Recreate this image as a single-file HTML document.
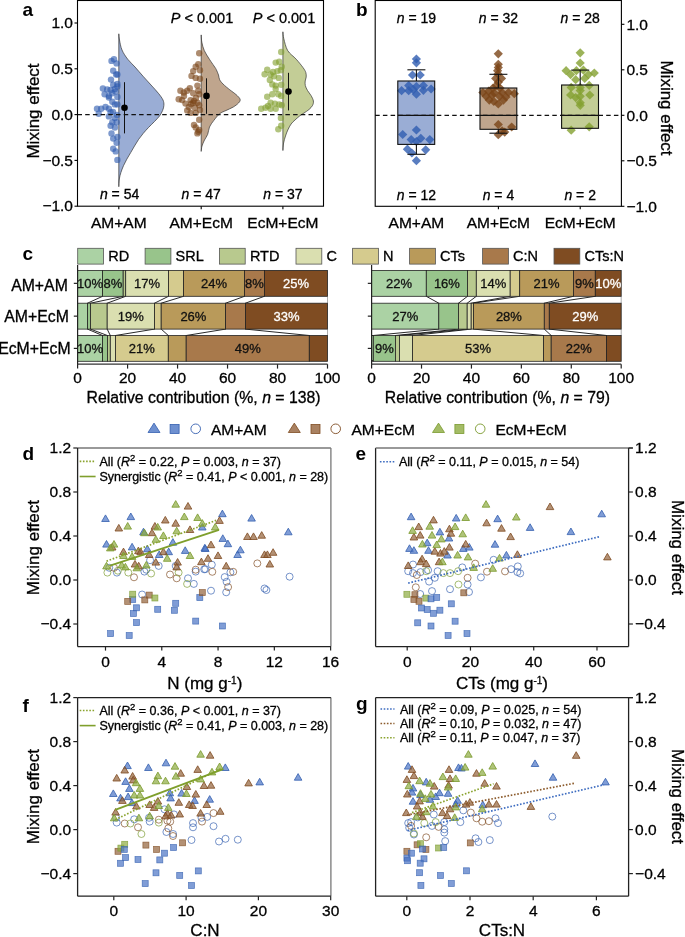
<!DOCTYPE html>
<html><head><meta charset="utf-8"><style>
html,body{margin:0;padding:0;background:#fff;}
svg{display:block;font-family:"Liberation Sans", sans-serif;will-change:transform;}
</style></head><body>
<svg width="685" height="937" viewBox="0 0 685 937">
<rect x="0" y="0" width="685" height="937" fill="#fff"/>
<path d="M118.8,33.8 C118.92,34.83 118.97,37.3 119.5,40 C120.03,42.7 120.63,46.8 122,50 C123.37,53.2 125.53,56.37 127.7,59.2 C129.87,62.03 132.45,64.17 135,67 C137.55,69.83 140.33,73.2 143,76.2 C145.67,79.2 148.43,82.15 151,85 C153.57,87.85 156.4,90.8 158.4,93.3 C160.4,95.8 162.08,98 163,100 C163.92,102 163.97,103.55 163.9,105.3 C163.83,107.05 163.33,108.72 162.6,110.5 C161.87,112.28 160.85,114.17 159.5,116 C158.15,117.83 156.33,119.58 154.5,121.5 C152.67,123.42 150.37,125.53 148.5,127.5 C146.63,129.47 144.95,131.32 143.3,133.3 C141.65,135.28 140.07,137.28 138.6,139.4 C137.13,141.52 135.82,143.8 134.5,146 C133.18,148.2 131.98,150.4 130.7,152.6 C129.42,154.8 128,157.02 126.8,159.2 C125.6,161.38 124.48,163.48 123.5,165.7 C122.52,167.92 121.6,170.28 120.9,172.5 C120.2,174.72 119.65,176.63 119.3,179 C118.95,181.37 118.88,185.42 118.8,186.7 Z" fill="#9aadd5" stroke="#333" stroke-width="0.7"/>
<path d="M201.2,34.9 C201.3,36.1 201.28,39.48 201.8,42.1 C202.32,44.72 203.03,47.75 204.3,50.6 C205.57,53.45 207.78,56.63 209.4,59.2 C211.02,61.77 212.87,64.3 214,66 C215.13,67.7 215.45,67.9 216.2,69.4 C216.95,70.9 217.93,73.3 218.5,75 C219.07,76.7 218.85,78.1 219.6,79.6 C220.35,81.1 221.28,82.28 223,84 C224.72,85.72 227.73,88.15 229.9,89.9 C232.07,91.65 234.3,92.93 236,94.5 C237.7,96.07 239.68,97.88 240.1,99.3 C240.52,100.72 239.63,101.72 238.5,103 C237.37,104.28 235.38,105.75 233.3,107 C231.22,108.25 228.28,109.37 226,110.5 C223.72,111.63 221.65,112.12 219.6,113.8 C217.55,115.48 215.38,118.4 213.7,120.6 C212.02,122.8 210.5,124.72 209.5,127 C208.5,129.28 208.53,132.13 207.7,134.3 C206.87,136.47 205.45,138.05 204.5,140 C203.55,141.95 202.55,144.1 202,146 C201.45,147.9 201.33,150.5 201.2,151.4 Z" fill="#bfa58d" stroke="#333" stroke-width="0.7"/>
<path d="M282.9,31.8 C283.05,32.95 283,35.57 283.8,38.7 C284.6,41.83 285.63,47.18 287.7,50.6 C289.77,54.02 293.63,56.35 296.2,59.2 C298.77,62.05 301.5,65.48 303.1,67.7 C304.7,69.92 305.28,70.95 305.8,72.5 C306.32,74.05 306.3,75.58 306.2,77 C306.1,78.42 305.35,79.58 305.2,81 C305.05,82.42 304.92,83.92 305.3,85.5 C305.68,87.08 306.55,88.83 307.5,90.5 C308.45,92.17 310.02,93.75 311,95.5 C311.98,97.25 313.15,99.33 313.4,101 C313.65,102.67 313.23,104.08 312.5,105.5 C311.77,106.92 310.42,108.25 309,109.5 C307.58,110.75 305.57,111.92 304,113 C302.43,114.08 301.1,114.83 299.6,116 C298.1,117.17 296.42,118.67 295,120 C293.58,121.33 292.3,122.33 291.1,124 C289.9,125.67 288.73,128 287.8,130 C286.87,132 286.2,133.83 285.5,136 C284.8,138.17 284.03,140.58 283.6,143 C283.17,145.42 283.02,149.25 282.9,150.5 Z" fill="#c3cd96" stroke="#333" stroke-width="0.7"/>
<circle cx="111.5" cy="60.9" r="3.2" fill="#2f5cb0" stroke="none" stroke-width="1" fill-opacity="0.62"/>
<circle cx="114" cy="59.2" r="3.2" fill="#2f5cb0" stroke="none" stroke-width="1" fill-opacity="0.62"/>
<circle cx="116.6" cy="63.4" r="3.2" fill="#2f5cb0" stroke="none" stroke-width="1" fill-opacity="0.62"/>
<circle cx="113.2" cy="70.8" r="3.2" fill="#2f5cb0" stroke="none" stroke-width="1" fill-opacity="0.62"/>
<circle cx="116.1" cy="74.5" r="3.2" fill="#2f5cb0" stroke="none" stroke-width="1" fill-opacity="0.62"/>
<circle cx="117.4" cy="74.5" r="3.2" fill="#2f5cb0" stroke="none" stroke-width="1" fill-opacity="0.62"/>
<circle cx="111" cy="79.6" r="3.2" fill="#2f5cb0" stroke="none" stroke-width="1" fill-opacity="0.62"/>
<circle cx="113.2" cy="84.8" r="3.2" fill="#2f5cb0" stroke="none" stroke-width="1" fill-opacity="0.62"/>
<circle cx="117.4" cy="83.9" r="3.2" fill="#2f5cb0" stroke="none" stroke-width="1" fill-opacity="0.62"/>
<circle cx="102.9" cy="88.5" r="3.2" fill="#2f5cb0" stroke="none" stroke-width="1" fill-opacity="0.62"/>
<circle cx="107.2" cy="89.5" r="3.2" fill="#2f5cb0" stroke="none" stroke-width="1" fill-opacity="0.62"/>
<circle cx="110.6" cy="89.9" r="3.2" fill="#2f5cb0" stroke="none" stroke-width="1" fill-opacity="0.62"/>
<circle cx="114.9" cy="89" r="3.2" fill="#2f5cb0" stroke="none" stroke-width="1" fill-opacity="0.62"/>
<circle cx="117.4" cy="86.5" r="3.2" fill="#2f5cb0" stroke="none" stroke-width="1" fill-opacity="0.62"/>
<circle cx="104.6" cy="94.2" r="3.2" fill="#2f5cb0" stroke="none" stroke-width="1" fill-opacity="0.62"/>
<circle cx="108.9" cy="95.9" r="3.2" fill="#2f5cb0" stroke="none" stroke-width="1" fill-opacity="0.62"/>
<circle cx="112.3" cy="93.3" r="3.2" fill="#2f5cb0" stroke="none" stroke-width="1" fill-opacity="0.62"/>
<circle cx="115.7" cy="91.6" r="3.2" fill="#2f5cb0" stroke="none" stroke-width="1" fill-opacity="0.62"/>
<circle cx="108.9" cy="97.6" r="3.2" fill="#2f5cb0" stroke="none" stroke-width="1" fill-opacity="0.62"/>
<circle cx="112.3" cy="101.8" r="3.2" fill="#2f5cb0" stroke="none" stroke-width="1" fill-opacity="0.62"/>
<circle cx="114.9" cy="104.4" r="3.2" fill="#2f5cb0" stroke="none" stroke-width="1" fill-opacity="0.62"/>
<circle cx="117.4" cy="104.4" r="3.2" fill="#2f5cb0" stroke="none" stroke-width="1" fill-opacity="0.62"/>
<circle cx="97" cy="108.7" r="3.2" fill="#2f5cb0" stroke="none" stroke-width="1" fill-opacity="0.62"/>
<circle cx="101.2" cy="108.7" r="3.2" fill="#2f5cb0" stroke="none" stroke-width="1" fill-opacity="0.62"/>
<circle cx="105.5" cy="107" r="3.2" fill="#2f5cb0" stroke="none" stroke-width="1" fill-opacity="0.62"/>
<circle cx="108.9" cy="108.7" r="3.2" fill="#2f5cb0" stroke="none" stroke-width="1" fill-opacity="0.62"/>
<circle cx="98.7" cy="113.8" r="3.2" fill="#2f5cb0" stroke="none" stroke-width="1" fill-opacity="0.62"/>
<circle cx="110.6" cy="112.1" r="3.2" fill="#2f5cb0" stroke="none" stroke-width="1" fill-opacity="0.62"/>
<circle cx="108.9" cy="116.4" r="3.2" fill="#2f5cb0" stroke="none" stroke-width="1" fill-opacity="0.62"/>
<circle cx="114.9" cy="118.1" r="3.2" fill="#2f5cb0" stroke="none" stroke-width="1" fill-opacity="0.62"/>
<circle cx="112.3" cy="122.3" r="3.2" fill="#2f5cb0" stroke="none" stroke-width="1" fill-opacity="0.62"/>
<circle cx="116.6" cy="122.3" r="3.2" fill="#2f5cb0" stroke="none" stroke-width="1" fill-opacity="0.62"/>
<circle cx="110.6" cy="125.8" r="3.2" fill="#2f5cb0" stroke="none" stroke-width="1" fill-opacity="0.62"/>
<circle cx="114.9" cy="127.5" r="3.2" fill="#2f5cb0" stroke="none" stroke-width="1" fill-opacity="0.62"/>
<circle cx="111.5" cy="133.4" r="3.2" fill="#2f5cb0" stroke="none" stroke-width="1" fill-opacity="0.62"/>
<circle cx="117.4" cy="136.9" r="3.2" fill="#2f5cb0" stroke="none" stroke-width="1" fill-opacity="0.62"/>
<circle cx="113.2" cy="138.6" r="3.2" fill="#2f5cb0" stroke="none" stroke-width="1" fill-opacity="0.62"/>
<circle cx="116.6" cy="142.8" r="3.2" fill="#2f5cb0" stroke="none" stroke-width="1" fill-opacity="0.62"/>
<circle cx="113.2" cy="148.8" r="3.2" fill="#2f5cb0" stroke="none" stroke-width="1" fill-opacity="0.62"/>
<circle cx="115.7" cy="151.4" r="3.2" fill="#2f5cb0" stroke="none" stroke-width="1" fill-opacity="0.62"/>
<circle cx="117.4" cy="159.9" r="3.2" fill="#2f5cb0" stroke="none" stroke-width="1" fill-opacity="0.62"/>
<circle cx="117.4" cy="97" r="3.2" fill="#2f5cb0" stroke="none" stroke-width="1" fill-opacity="0.62"/>
<circle cx="113" cy="112" r="3.2" fill="#2f5cb0" stroke="none" stroke-width="1" fill-opacity="0.62"/>
<circle cx="117" cy="115" r="3.2" fill="#2f5cb0" stroke="none" stroke-width="1" fill-opacity="0.62"/>
<circle cx="199.2" cy="53.2" r="3.2" fill="#7a4518" stroke="none" stroke-width="1" fill-opacity="0.62"/>
<circle cx="198.3" cy="64.3" r="3.2" fill="#7a4518" stroke="none" stroke-width="1" fill-opacity="0.62"/>
<circle cx="195.7" cy="66.8" r="3.2" fill="#7a4518" stroke="none" stroke-width="1" fill-opacity="0.62"/>
<circle cx="200" cy="70.3" r="3.2" fill="#7a4518" stroke="none" stroke-width="1" fill-opacity="0.62"/>
<circle cx="193.2" cy="71.1" r="3.2" fill="#7a4518" stroke="none" stroke-width="1" fill-opacity="0.62"/>
<circle cx="191.5" cy="75.9" r="3.2" fill="#7a4518" stroke="none" stroke-width="1" fill-opacity="0.62"/>
<circle cx="195.7" cy="77.9" r="3.2" fill="#7a4518" stroke="none" stroke-width="1" fill-opacity="0.62"/>
<circle cx="200" cy="78.8" r="3.2" fill="#7a4518" stroke="none" stroke-width="1" fill-opacity="0.62"/>
<circle cx="197.4" cy="85.6" r="3.2" fill="#7a4518" stroke="none" stroke-width="1" fill-opacity="0.62"/>
<circle cx="189.8" cy="88.2" r="3.2" fill="#7a4518" stroke="none" stroke-width="1" fill-opacity="0.62"/>
<circle cx="180.4" cy="90.7" r="3.2" fill="#7a4518" stroke="none" stroke-width="1" fill-opacity="0.62"/>
<circle cx="183.8" cy="92.5" r="3.2" fill="#7a4518" stroke="none" stroke-width="1" fill-opacity="0.62"/>
<circle cx="187.2" cy="90.7" r="3.2" fill="#7a4518" stroke="none" stroke-width="1" fill-opacity="0.62"/>
<circle cx="193.2" cy="93.3" r="3.2" fill="#7a4518" stroke="none" stroke-width="1" fill-opacity="0.62"/>
<circle cx="198.3" cy="90.7" r="3.2" fill="#7a4518" stroke="none" stroke-width="1" fill-opacity="0.62"/>
<circle cx="199.2" cy="94.2" r="3.2" fill="#7a4518" stroke="none" stroke-width="1" fill-opacity="0.62"/>
<circle cx="178.7" cy="99.3" r="3.2" fill="#7a4518" stroke="none" stroke-width="1" fill-opacity="0.62"/>
<circle cx="182.1" cy="100.1" r="3.2" fill="#7a4518" stroke="none" stroke-width="1" fill-opacity="0.62"/>
<circle cx="185.5" cy="103.6" r="3.2" fill="#7a4518" stroke="none" stroke-width="1" fill-opacity="0.62"/>
<circle cx="190.6" cy="100.1" r="3.2" fill="#7a4518" stroke="none" stroke-width="1" fill-opacity="0.62"/>
<circle cx="194" cy="101" r="3.2" fill="#7a4518" stroke="none" stroke-width="1" fill-opacity="0.62"/>
<circle cx="197.4" cy="102.7" r="3.2" fill="#7a4518" stroke="none" stroke-width="1" fill-opacity="0.62"/>
<circle cx="199.2" cy="105.3" r="3.2" fill="#7a4518" stroke="none" stroke-width="1" fill-opacity="0.62"/>
<circle cx="188.9" cy="107" r="3.2" fill="#7a4518" stroke="none" stroke-width="1" fill-opacity="0.62"/>
<circle cx="194.9" cy="107.8" r="3.2" fill="#7a4518" stroke="none" stroke-width="1" fill-opacity="0.62"/>
<circle cx="187.2" cy="110.4" r="3.2" fill="#7a4518" stroke="none" stroke-width="1" fill-opacity="0.62"/>
<circle cx="190.6" cy="112.9" r="3.2" fill="#7a4518" stroke="none" stroke-width="1" fill-opacity="0.62"/>
<circle cx="195.7" cy="112.9" r="3.2" fill="#7a4518" stroke="none" stroke-width="1" fill-opacity="0.62"/>
<circle cx="199.2" cy="119.8" r="3.2" fill="#7a4518" stroke="none" stroke-width="1" fill-opacity="0.62"/>
<circle cx="194" cy="124.9" r="3.2" fill="#7a4518" stroke="none" stroke-width="1" fill-opacity="0.62"/>
<circle cx="195.7" cy="127.5" r="3.2" fill="#7a4518" stroke="none" stroke-width="1" fill-opacity="0.62"/>
<circle cx="198.3" cy="131.7" r="3.2" fill="#7a4518" stroke="none" stroke-width="1" fill-opacity="0.62"/>
<circle cx="199.2" cy="130" r="3.2" fill="#7a4518" stroke="none" stroke-width="1" fill-opacity="0.62"/>
<circle cx="197.4" cy="133.4" r="3.2" fill="#7a4518" stroke="none" stroke-width="1" fill-opacity="0.62"/>
<circle cx="193" cy="103" r="3.2" fill="#7a4518" stroke="none" stroke-width="1" fill-opacity="0.62"/>
<circle cx="196" cy="98" r="3.2" fill="#7a4518" stroke="none" stroke-width="1" fill-opacity="0.62"/>
<circle cx="184" cy="96" r="3.2" fill="#7a4518" stroke="none" stroke-width="1" fill-opacity="0.62"/>
<circle cx="200" cy="110" r="3.2" fill="#7a4518" stroke="none" stroke-width="1" fill-opacity="0.62"/>
<circle cx="191" cy="104" r="3.2" fill="#7a4518" stroke="none" stroke-width="1" fill-opacity="0.62"/>
<circle cx="281.2" cy="52" r="3.2" fill="#83a030" stroke="none" stroke-width="1" fill-opacity="0.62"/>
<circle cx="275.7" cy="62.6" r="3.2" fill="#83a030" stroke="none" stroke-width="1" fill-opacity="0.62"/>
<circle cx="279.2" cy="61.7" r="3.2" fill="#83a030" stroke="none" stroke-width="1" fill-opacity="0.62"/>
<circle cx="281.7" cy="66.8" r="3.2" fill="#83a030" stroke="none" stroke-width="1" fill-opacity="0.62"/>
<circle cx="267.2" cy="69.7" r="3.2" fill="#83a030" stroke="none" stroke-width="1" fill-opacity="0.62"/>
<circle cx="264.6" cy="74.2" r="3.2" fill="#83a030" stroke="none" stroke-width="1" fill-opacity="0.62"/>
<circle cx="270.6" cy="74.5" r="3.2" fill="#83a030" stroke="none" stroke-width="1" fill-opacity="0.62"/>
<circle cx="274" cy="76.2" r="3.2" fill="#83a030" stroke="none" stroke-width="1" fill-opacity="0.62"/>
<circle cx="277.4" cy="71.1" r="3.2" fill="#83a030" stroke="none" stroke-width="1" fill-opacity="0.62"/>
<circle cx="280.9" cy="70.3" r="3.2" fill="#83a030" stroke="none" stroke-width="1" fill-opacity="0.62"/>
<circle cx="269.8" cy="80" r="3.2" fill="#83a030" stroke="none" stroke-width="1" fill-opacity="0.62"/>
<circle cx="278.8" cy="77.9" r="3.2" fill="#83a030" stroke="none" stroke-width="1" fill-opacity="0.62"/>
<circle cx="272.3" cy="84.4" r="3.2" fill="#83a030" stroke="none" stroke-width="1" fill-opacity="0.62"/>
<circle cx="275.7" cy="85.6" r="3.2" fill="#83a030" stroke="none" stroke-width="1" fill-opacity="0.62"/>
<circle cx="281.2" cy="84.8" r="3.2" fill="#83a030" stroke="none" stroke-width="1" fill-opacity="0.62"/>
<circle cx="275.7" cy="89" r="3.2" fill="#83a030" stroke="none" stroke-width="1" fill-opacity="0.62"/>
<circle cx="267.2" cy="96.7" r="3.2" fill="#83a030" stroke="none" stroke-width="1" fill-opacity="0.62"/>
<circle cx="272.3" cy="94.2" r="3.2" fill="#83a030" stroke="none" stroke-width="1" fill-opacity="0.62"/>
<circle cx="278.3" cy="94.2" r="3.2" fill="#83a030" stroke="none" stroke-width="1" fill-opacity="0.62"/>
<circle cx="281.2" cy="95.9" r="3.2" fill="#83a030" stroke="none" stroke-width="1" fill-opacity="0.62"/>
<circle cx="270.6" cy="102.7" r="3.2" fill="#83a030" stroke="none" stroke-width="1" fill-opacity="0.62"/>
<circle cx="274.9" cy="103.6" r="3.2" fill="#83a030" stroke="none" stroke-width="1" fill-opacity="0.62"/>
<circle cx="279.2" cy="104.4" r="3.2" fill="#83a030" stroke="none" stroke-width="1" fill-opacity="0.62"/>
<circle cx="281.7" cy="105.3" r="3.2" fill="#83a030" stroke="none" stroke-width="1" fill-opacity="0.62"/>
<circle cx="261.2" cy="108.7" r="3.2" fill="#83a030" stroke="none" stroke-width="1" fill-opacity="0.62"/>
<circle cx="265.5" cy="107.8" r="3.2" fill="#83a030" stroke="none" stroke-width="1" fill-opacity="0.62"/>
<circle cx="270.6" cy="108.7" r="3.2" fill="#83a030" stroke="none" stroke-width="1" fill-opacity="0.62"/>
<circle cx="275.7" cy="108.7" r="3.2" fill="#83a030" stroke="none" stroke-width="1" fill-opacity="0.62"/>
<circle cx="280.9" cy="118.1" r="3.2" fill="#83a030" stroke="none" stroke-width="1" fill-opacity="0.62"/>
<circle cx="281.2" cy="125.8" r="3.2" fill="#83a030" stroke="none" stroke-width="1" fill-opacity="0.62"/>
<circle cx="278.3" cy="129.2" r="3.2" fill="#83a030" stroke="none" stroke-width="1" fill-opacity="0.62"/>
<circle cx="273" cy="72" r="3.2" fill="#83a030" stroke="none" stroke-width="1" fill-opacity="0.62"/>
<circle cx="268" cy="106" r="3.2" fill="#83a030" stroke="none" stroke-width="1" fill-opacity="0.62"/>
<line x1="77.5" y1="114.6" x2="323.5" y2="114.6" stroke="#111" stroke-width="1.2" stroke-dasharray="4.5,3.2"/>
<line x1="124.5" y1="82.2" x2="124.5" y2="133.4" stroke="#111" stroke-width="1"/>
<circle cx="124.5" cy="107.8" r="3.3" fill="#000" stroke="none" stroke-width="1"/>
<line x1="206.5" y1="78.3" x2="206.5" y2="113.8" stroke="#111" stroke-width="1"/>
<circle cx="206.5" cy="95.9" r="3.3" fill="#000" stroke="none" stroke-width="1"/>
<line x1="288.5" y1="72.8" x2="288.5" y2="110.4" stroke="#111" stroke-width="1"/>
<circle cx="288.5" cy="91.6" r="3.3" fill="#000" stroke="none" stroke-width="1"/>
<rect x="77.5" y="0.5" width="246" height="205.7" fill="none" stroke="#000" stroke-width="1.1"/>
<line x1="74.5" y1="23" x2="77.5" y2="23" stroke="#000" stroke-width="1.1"/>
<text x="73" y="28.2" font-size="15.5" text-anchor="end" font-weight="normal" fill="#000" stroke="#000" stroke-width="0.3">1.0</text>
<line x1="74.5" y1="68.8" x2="77.5" y2="68.8" stroke="#000" stroke-width="1.1"/>
<text x="73" y="74" font-size="15.5" text-anchor="end" font-weight="normal" fill="#000" stroke="#000" stroke-width="0.3">0.5</text>
<line x1="74.5" y1="114.6" x2="77.5" y2="114.6" stroke="#000" stroke-width="1.1"/>
<text x="73" y="119.8" font-size="15.5" text-anchor="end" font-weight="normal" fill="#000" stroke="#000" stroke-width="0.3">0.0</text>
<line x1="74.5" y1="160.4" x2="77.5" y2="160.4" stroke="#000" stroke-width="1.1"/>
<text x="73" y="165.6" font-size="15.5" text-anchor="end" font-weight="normal" fill="#000" stroke="#000" stroke-width="0.3">−0.5</text>
<line x1="74.5" y1="206.2" x2="77.5" y2="206.2" stroke="#000" stroke-width="1.1"/>
<text x="73" y="211.4" font-size="15.5" text-anchor="end" font-weight="normal" fill="#000" stroke="#000" stroke-width="0.3">−1.0</text>
<line x1="118.8" y1="206.2" x2="118.8" y2="209.2" stroke="#000" stroke-width="1.1"/>
<text x="118.8" y="227.5" font-size="15.5" text-anchor="middle" font-weight="normal" fill="#000" stroke="#000" stroke-width="0.3">AM+AM</text>
<line x1="201.2" y1="206.2" x2="201.2" y2="209.2" stroke="#000" stroke-width="1.1"/>
<text x="201.2" y="227.5" font-size="15.5" text-anchor="middle" font-weight="normal" fill="#000" stroke="#000" stroke-width="0.3">AM+EcM</text>
<line x1="282.9" y1="206.2" x2="282.9" y2="209.2" stroke="#000" stroke-width="1.1"/>
<text x="282.9" y="227.5" font-size="15.5" text-anchor="middle" font-weight="normal" fill="#000" stroke="#000" stroke-width="0.3">EcM+EcM</text>
<text x="119.6" y="199.2" font-size="14" text-anchor="middle" font-weight="normal" fill="#000" stroke="#000" stroke-width="0.3"><tspan font-style="italic">n</tspan> = 54</text>
<text x="201.2" y="199.2" font-size="14" text-anchor="middle" font-weight="normal" fill="#000" stroke="#000" stroke-width="0.3"><tspan font-style="italic">n</tspan> = 47</text>
<text x="282.9" y="199.2" font-size="14" text-anchor="middle" font-weight="normal" fill="#000" stroke="#000" stroke-width="0.3"><tspan font-style="italic">n</tspan> = 37</text>
<text x="202" y="22.8" font-size="14.5" text-anchor="middle" font-weight="normal" fill="#000" stroke="#000" stroke-width="0.3"><tspan font-style="italic">P</tspan> &lt; 0.001</text>
<text x="284" y="22.8" font-size="14.5" text-anchor="middle" font-weight="normal" fill="#000" stroke="#000" stroke-width="0.3"><tspan font-style="italic">P</tspan> &lt; 0.001</text>
<text x="38.7" y="111" font-size="17" text-anchor="middle" font-weight="normal" fill="#000" stroke="#000" stroke-width="0.3" transform="rotate(-90 38.7 111)">Mixing effect</text>
<text x="22.5" y="16" font-size="19" text-anchor="start" font-weight="bold" fill="#000">a</text>
<rect x="397.8" y="81" width="36.9" height="63.4" fill="#9aadd5" stroke="none" stroke-width="1"/>
<rect x="480" y="88" width="36.8" height="41.3" fill="#bfa58d" stroke="none" stroke-width="1"/>
<rect x="561.6" y="85" width="36.9" height="43.3" fill="#c3cd96" stroke="none" stroke-width="1"/>
<line x1="375.2" y1="115.3" x2="621.4" y2="115.3" stroke="#111" stroke-width="1.2" stroke-dasharray="4.5,3.2"/>
<polygon points="416.4,54.4 421,59 416.4,63.6 411.8,59" fill="#2f5cb0" stroke="none" stroke-width="1" fill-opacity="0.8"/>
<polygon points="416.4,58.2 421,62.8 416.4,67.4 411.8,62.8" fill="#2f5cb0" stroke="none" stroke-width="1" fill-opacity="0.8"/>
<polygon points="412.5,70.4 417.1,75 412.5,79.6 407.9,75" fill="#2f5cb0" stroke="none" stroke-width="1" fill-opacity="0.8"/>
<polygon points="420.2,70.4 424.8,75 420.2,79.6 415.6,75" fill="#2f5cb0" stroke="none" stroke-width="1" fill-opacity="0.8"/>
<polygon points="401.6,86.1 406.2,90.7 401.6,95.3 397,90.7" fill="#2f5cb0" stroke="none" stroke-width="1" fill-opacity="0.8"/>
<polygon points="408.7,81 413.3,85.6 408.7,90.2 404.1,85.6" fill="#2f5cb0" stroke="none" stroke-width="1" fill-opacity="0.8"/>
<polygon points="408.7,86.1 413.3,90.7 408.7,95.3 404.1,90.7" fill="#2f5cb0" stroke="none" stroke-width="1" fill-opacity="0.8"/>
<polygon points="416.4,81.9 421,86.5 416.4,91.1 411.8,86.5" fill="#2f5cb0" stroke="none" stroke-width="1" fill-opacity="0.8"/>
<polygon points="416.4,89.6 421,94.2 416.4,98.8 411.8,94.2" fill="#2f5cb0" stroke="none" stroke-width="1" fill-opacity="0.8"/>
<polygon points="423.4,81 428,85.6 423.4,90.2 418.8,85.6" fill="#2f5cb0" stroke="none" stroke-width="1" fill-opacity="0.8"/>
<polygon points="423.4,85.7 428,90.3 423.4,94.9 418.8,90.3" fill="#2f5cb0" stroke="none" stroke-width="1" fill-opacity="0.8"/>
<polygon points="431.1,84.4 435.7,89 431.1,93.6 426.5,89" fill="#2f5cb0" stroke="none" stroke-width="1" fill-opacity="0.8"/>
<polygon points="413.2,85.1 417.8,89.7 413.2,94.3 408.6,89.7" fill="#2f5cb0" stroke="none" stroke-width="1" fill-opacity="0.8"/>
<polygon points="416.4,125.4 421,130 416.4,134.6 411.8,130" fill="#2f5cb0" stroke="none" stroke-width="1" fill-opacity="0.8"/>
<polygon points="402.7,129.9 407.3,134.5 402.7,139.1 398.1,134.5" fill="#2f5cb0" stroke="none" stroke-width="1" fill-opacity="0.8"/>
<polygon points="411.2,135 415.8,139.6 411.2,144.2 406.6,139.6" fill="#2f5cb0" stroke="none" stroke-width="1" fill-opacity="0.8"/>
<polygon points="416.4,136.9 421,141.5 416.4,146.1 411.8,141.5" fill="#2f5cb0" stroke="none" stroke-width="1" fill-opacity="0.8"/>
<polygon points="420.8,133.7 425.4,138.3 420.8,142.9 416.2,138.3" fill="#2f5cb0" stroke="none" stroke-width="1" fill-opacity="0.8"/>
<polygon points="429.8,135 434.4,139.6 429.8,144.2 425.2,139.6" fill="#2f5cb0" stroke="none" stroke-width="1" fill-opacity="0.8"/>
<polygon points="407.4,144.6 412,149.2 407.4,153.8 402.8,149.2" fill="#2f5cb0" stroke="none" stroke-width="1" fill-opacity="0.8"/>
<polygon points="411.9,148.4 416.5,153 411.9,157.6 407.3,153" fill="#2f5cb0" stroke="none" stroke-width="1" fill-opacity="0.8"/>
<polygon points="425.7,145.2 430.3,149.8 425.7,154.4 421.1,149.8" fill="#2f5cb0" stroke="none" stroke-width="1" fill-opacity="0.8"/>
<polygon points="416.4,156.1 421,160.7 416.4,165.3 411.8,160.7" fill="#2f5cb0" stroke="none" stroke-width="1" fill-opacity="0.8"/>
<polygon points="498.3,49.2 502.9,53.8 498.3,58.4 493.7,53.8" fill="#7a4518" stroke="none" stroke-width="1" fill-opacity="0.8"/>
<polygon points="498.3,59.7 502.9,64.3 498.3,68.9 493.7,64.3" fill="#7a4518" stroke="none" stroke-width="1" fill-opacity="0.8"/>
<polygon points="498.3,62.9 502.9,67.5 498.3,72.1 493.7,67.5" fill="#7a4518" stroke="none" stroke-width="1" fill-opacity="0.8"/>
<polygon points="497.6,66.1 502.2,70.7 497.6,75.3 493,70.7" fill="#7a4518" stroke="none" stroke-width="1" fill-opacity="0.8"/>
<polygon points="495.7,73.8 500.3,78.4 495.7,83 491.1,78.4" fill="#7a4518" stroke="none" stroke-width="1" fill-opacity="0.8"/>
<polygon points="501.5,73.8 506.1,78.4 501.5,83 496.9,78.4" fill="#7a4518" stroke="none" stroke-width="1" fill-opacity="0.8"/>
<polygon points="498.3,77.6 502.9,82.2 498.3,86.8 493.7,82.2" fill="#7a4518" stroke="none" stroke-width="1" fill-opacity="0.8"/>
<polygon points="496.4,80.8 501,85.4 496.4,90 491.8,85.4" fill="#7a4518" stroke="none" stroke-width="1" fill-opacity="0.8"/>
<polygon points="482.9,87.9 487.5,92.5 482.9,97.1 478.3,92.5" fill="#7a4518" stroke="none" stroke-width="1" fill-opacity="0.8"/>
<polygon points="488.7,86.6 493.3,91.2 488.7,95.8 484.1,91.2" fill="#7a4518" stroke="none" stroke-width="1" fill-opacity="0.8"/>
<polygon points="494.4,88.5 499,93.1 494.4,97.7 489.8,93.1" fill="#7a4518" stroke="none" stroke-width="1" fill-opacity="0.8"/>
<polygon points="502.1,87.9 506.7,92.5 502.1,97.1 497.5,92.5" fill="#7a4518" stroke="none" stroke-width="1" fill-opacity="0.8"/>
<polygon points="508.5,87.9 513.1,92.5 508.5,97.1 503.9,92.5" fill="#7a4518" stroke="none" stroke-width="1" fill-opacity="0.8"/>
<polygon points="514.3,89.1 518.9,93.7 514.3,98.3 509.7,93.7" fill="#7a4518" stroke="none" stroke-width="1" fill-opacity="0.8"/>
<polygon points="486.1,91.7 490.7,96.3 486.1,100.9 481.5,96.3" fill="#7a4518" stroke="none" stroke-width="1" fill-opacity="0.8"/>
<polygon points="491.9,90.4 496.5,95 491.9,99.6 487.3,95" fill="#7a4518" stroke="none" stroke-width="1" fill-opacity="0.8"/>
<polygon points="499.6,91.7 504.2,96.3 499.6,100.9 495,96.3" fill="#7a4518" stroke="none" stroke-width="1" fill-opacity="0.8"/>
<polygon points="506,92.4 510.6,97 506,101.6 501.4,97" fill="#7a4518" stroke="none" stroke-width="1" fill-opacity="0.8"/>
<polygon points="489.3,95.5 493.9,100.1 489.3,104.7 484.7,100.1" fill="#7a4518" stroke="none" stroke-width="1" fill-opacity="0.8"/>
<polygon points="493.8,96.8 498.4,101.4 493.8,106 489.2,101.4" fill="#7a4518" stroke="none" stroke-width="1" fill-opacity="0.8"/>
<polygon points="498.3,99.4 502.9,104 498.3,108.6 493.7,104" fill="#7a4518" stroke="none" stroke-width="1" fill-opacity="0.8"/>
<polygon points="503.4,95.5 508,100.1 503.4,104.7 498.8,100.1" fill="#7a4518" stroke="none" stroke-width="1" fill-opacity="0.8"/>
<polygon points="498.3,119.9 502.9,124.5 498.3,129.1 493.7,124.5" fill="#7a4518" stroke="none" stroke-width="1" fill-opacity="0.8"/>
<polygon points="511.7,122.4 516.3,127 511.7,131.6 507.1,127" fill="#7a4518" stroke="none" stroke-width="1" fill-opacity="0.8"/>
<polygon points="502.1,126.3 506.7,130.9 502.1,135.5 497.5,130.9" fill="#7a4518" stroke="none" stroke-width="1" fill-opacity="0.8"/>
<polygon points="498.3,130.1 502.9,134.7 498.3,139.3 493.7,134.7" fill="#7a4518" stroke="none" stroke-width="1" fill-opacity="0.8"/>
<polygon points="504.7,127.5 509.3,132.1 504.7,136.7 500.1,132.1" fill="#7a4518" stroke="none" stroke-width="1" fill-opacity="0.8"/>
<polygon points="498,69.4 502.6,74 498,78.6 493.4,74" fill="#7a4518" stroke="none" stroke-width="1" fill-opacity="0.8"/>
<polygon points="500,83.4 504.6,88 500,92.6 495.4,88" fill="#7a4518" stroke="none" stroke-width="1" fill-opacity="0.8"/>
<polygon points="493,83.4 497.6,88 493,92.6 488.4,88" fill="#7a4518" stroke="none" stroke-width="1" fill-opacity="0.8"/>
<polygon points="580.2,48.2 584.8,52.8 580.2,57.4 575.6,52.8" fill="#83a030" stroke="none" stroke-width="1" fill-opacity="0.8"/>
<polygon points="580.2,58.4 584.8,63 580.2,67.6 575.6,63" fill="#83a030" stroke="none" stroke-width="1" fill-opacity="0.8"/>
<polygon points="566.1,66.1 570.7,70.7 566.1,75.3 561.5,70.7" fill="#83a030" stroke="none" stroke-width="1" fill-opacity="0.8"/>
<polygon points="570.6,70 575.2,74.6 570.6,79.2 566,74.6" fill="#83a030" stroke="none" stroke-width="1" fill-opacity="0.8"/>
<polygon points="576.4,66.1 581,70.7 576.4,75.3 571.8,70.7" fill="#83a030" stroke="none" stroke-width="1" fill-opacity="0.8"/>
<polygon points="583.4,65.5 588,70.1 583.4,74.7 578.8,70.1" fill="#83a030" stroke="none" stroke-width="1" fill-opacity="0.8"/>
<polygon points="588.5,70 593.1,74.6 588.5,79.2 583.9,74.6" fill="#83a030" stroke="none" stroke-width="1" fill-opacity="0.8"/>
<polygon points="594.3,68.4 598.9,73 594.3,77.6 589.7,73" fill="#83a030" stroke="none" stroke-width="1" fill-opacity="0.8"/>
<polygon points="575.7,75.1 580.3,79.7 575.7,84.3 571.1,79.7" fill="#83a030" stroke="none" stroke-width="1" fill-opacity="0.8"/>
<polygon points="584.7,73.8 589.3,78.4 584.7,83 580.1,78.4" fill="#83a030" stroke="none" stroke-width="1" fill-opacity="0.8"/>
<polygon points="571.2,82.8 575.8,87.4 571.2,92 566.6,87.4" fill="#83a030" stroke="none" stroke-width="1" fill-opacity="0.8"/>
<polygon points="580.2,82.8 584.8,87.4 580.2,92 575.6,87.4" fill="#83a030" stroke="none" stroke-width="1" fill-opacity="0.8"/>
<polygon points="589.2,80.8 593.8,85.4 589.2,90 584.6,85.4" fill="#83a030" stroke="none" stroke-width="1" fill-opacity="0.8"/>
<polygon points="580.2,86 584.8,90.6 580.2,95.2 575.6,90.6" fill="#83a030" stroke="none" stroke-width="1" fill-opacity="0.8"/>
<polygon points="570.6,90.4 575.2,95 570.6,99.6 566,95" fill="#83a030" stroke="none" stroke-width="1" fill-opacity="0.8"/>
<polygon points="575.7,93 580.3,97.6 575.7,102.2 571.1,97.6" fill="#83a030" stroke="none" stroke-width="1" fill-opacity="0.8"/>
<polygon points="580.2,91.7 584.8,96.3 580.2,100.9 575.6,96.3" fill="#83a030" stroke="none" stroke-width="1" fill-opacity="0.8"/>
<polygon points="589.8,90.4 594.4,95 589.8,99.6 585.2,95" fill="#83a030" stroke="none" stroke-width="1" fill-opacity="0.8"/>
<polygon points="580.2,98.1 584.8,102.7 580.2,107.3 575.6,102.7" fill="#83a030" stroke="none" stroke-width="1" fill-opacity="0.8"/>
<polygon points="580.2,100.7 584.8,105.3 580.2,109.9 575.6,105.3" fill="#83a030" stroke="none" stroke-width="1" fill-opacity="0.8"/>
<polygon points="571.2,125.6 575.8,130.2 571.2,134.8 566.6,130.2" fill="#83a030" stroke="none" stroke-width="1" fill-opacity="0.8"/>
<polygon points="589.2,122.2 593.8,126.8 589.2,131.4 584.6,126.8" fill="#83a030" stroke="none" stroke-width="1" fill-opacity="0.8"/>
<rect x="397.8" y="81" width="36.9" height="63.4" fill="none" stroke="#111" stroke-width="1.1"/>
<line x1="397.8" y1="115.4" x2="434.7" y2="115.4" stroke="#111" stroke-width="1.3"/>
<line x1="416.4" y1="69.8" x2="416.4" y2="81" stroke="#111" stroke-width="1.1"/>
<line x1="407.4" y1="69.8" x2="425.4" y2="69.8" stroke="#111" stroke-width="1.1"/>
<line x1="416.4" y1="144.4" x2="416.4" y2="154.3" stroke="#111" stroke-width="1.1"/>
<line x1="407.4" y1="154.3" x2="425.4" y2="154.3" stroke="#111" stroke-width="1.1"/>
<rect x="480" y="88" width="36.8" height="41.3" fill="none" stroke="#111" stroke-width="1.1"/>
<line x1="480" y1="115.4" x2="516.8" y2="115.4" stroke="#111" stroke-width="1.3"/>
<line x1="498.4" y1="74.3" x2="498.4" y2="88" stroke="#111" stroke-width="1.1"/>
<line x1="489.4" y1="74.3" x2="507.4" y2="74.3" stroke="#111" stroke-width="1.1"/>
<line x1="498.4" y1="129.3" x2="498.4" y2="133.2" stroke="#111" stroke-width="1.1"/>
<line x1="489.4" y1="133.2" x2="507.4" y2="133.2" stroke="#111" stroke-width="1.1"/>
<rect x="561.6" y="85" width="36.9" height="43.3" fill="none" stroke="#111" stroke-width="1.1"/>
<line x1="561.6" y1="115.4" x2="598.5" y2="115.4" stroke="#111" stroke-width="1.3"/>
<line x1="580.2" y1="70.1" x2="580.2" y2="85" stroke="#111" stroke-width="1.1"/>
<line x1="571.2" y1="70.1" x2="589.2" y2="70.1" stroke="#111" stroke-width="1.1"/>
<rect x="375.2" y="0.5" width="246.2" height="205.8" fill="none" stroke="#000" stroke-width="1.1"/>
<line x1="621.4" y1="24.3" x2="624.4" y2="24.3" stroke="#000" stroke-width="1.1"/>
<text x="626.4" y="29.5" font-size="15.5" text-anchor="start" font-weight="normal" fill="#000" stroke="#000" stroke-width="0.3">1.0</text>
<line x1="621.4" y1="69.8" x2="624.4" y2="69.8" stroke="#000" stroke-width="1.1"/>
<text x="626.4" y="75" font-size="15.5" text-anchor="start" font-weight="normal" fill="#000" stroke="#000" stroke-width="0.3">0.5</text>
<line x1="621.4" y1="115.3" x2="624.4" y2="115.3" stroke="#000" stroke-width="1.1"/>
<text x="626.4" y="120.5" font-size="15.5" text-anchor="start" font-weight="normal" fill="#000" stroke="#000" stroke-width="0.3">0.0</text>
<line x1="621.4" y1="160.8" x2="624.4" y2="160.8" stroke="#000" stroke-width="1.1"/>
<text x="626.4" y="166" font-size="15.5" text-anchor="start" font-weight="normal" fill="#000" stroke="#000" stroke-width="0.3">−0.5</text>
<line x1="621.4" y1="206.3" x2="624.4" y2="206.3" stroke="#000" stroke-width="1.1"/>
<text x="626.4" y="211.5" font-size="15.5" text-anchor="start" font-weight="normal" fill="#000" stroke="#000" stroke-width="0.3">−1.0</text>
<line x1="416.4" y1="206.3" x2="416.4" y2="209.3" stroke="#000" stroke-width="1.1"/>
<text x="416.4" y="227.5" font-size="15.5" text-anchor="middle" font-weight="normal" fill="#000" stroke="#000" stroke-width="0.3">AM+AM</text>
<line x1="498.4" y1="206.3" x2="498.4" y2="209.3" stroke="#000" stroke-width="1.1"/>
<text x="498.4" y="227.5" font-size="15.5" text-anchor="middle" font-weight="normal" fill="#000" stroke="#000" stroke-width="0.3">AM+EcM</text>
<line x1="580.2" y1="206.3" x2="580.2" y2="209.3" stroke="#000" stroke-width="1.1"/>
<text x="580.2" y="227.5" font-size="15.5" text-anchor="middle" font-weight="normal" fill="#000" stroke="#000" stroke-width="0.3">EcM+EcM</text>
<text x="416.4" y="22.8" font-size="14" text-anchor="middle" font-weight="normal" fill="#000" stroke="#000" stroke-width="0.3"><tspan font-style="italic">n</tspan> = 19</text>
<text x="416.4" y="199.8" font-size="14" text-anchor="middle" font-weight="normal" fill="#000" stroke="#000" stroke-width="0.3"><tspan font-style="italic">n</tspan> = 12</text>
<text x="498.4" y="22.8" font-size="14" text-anchor="middle" font-weight="normal" fill="#000" stroke="#000" stroke-width="0.3"><tspan font-style="italic">n</tspan> = 32</text>
<text x="498.4" y="199.8" font-size="14" text-anchor="middle" font-weight="normal" fill="#000" stroke="#000" stroke-width="0.3"><tspan font-style="italic">n</tspan> = 4</text>
<text x="580.2" y="22.8" font-size="14" text-anchor="middle" font-weight="normal" fill="#000" stroke="#000" stroke-width="0.3"><tspan font-style="italic">n</tspan> = 28</text>
<text x="580.2" y="199.8" font-size="14" text-anchor="middle" font-weight="normal" fill="#000" stroke="#000" stroke-width="0.3"><tspan font-style="italic">n</tspan> = 2</text>
<text x="661" y="108" font-size="17" text-anchor="middle" font-weight="normal" fill="#000" stroke="#000" stroke-width="0.3" transform="rotate(90 661 108)">Mixing effect</text>
<text x="356" y="16" font-size="19" text-anchor="start" font-weight="bold" fill="#000">b</text>
<rect x="77.6" y="296.3" width="249.9" height="6.9" fill="#fff" stroke="none" stroke-width="1"/>
<line x1="102.6" y1="296.3" x2="87.5" y2="303.2" stroke="#111" stroke-width="0.9"/>
<line x1="123.2" y1="296.3" x2="90.5" y2="303.2" stroke="#111" stroke-width="0.9"/>
<line x1="125.7" y1="296.3" x2="107.2" y2="303.2" stroke="#111" stroke-width="0.9"/>
<line x1="168.5" y1="296.3" x2="154.5" y2="303.2" stroke="#111" stroke-width="0.9"/>
<line x1="183.6" y1="296.3" x2="161.2" y2="303.2" stroke="#111" stroke-width="0.9"/>
<line x1="244.5" y1="296.3" x2="225.6" y2="303.2" stroke="#111" stroke-width="0.9"/>
<line x1="264.4" y1="296.3" x2="245.4" y2="303.2" stroke="#111" stroke-width="0.9"/>
<line x1="327.5" y1="296.3" x2="327.5" y2="303.2" stroke="#999" stroke-width="0.8"/>
<rect x="77.6" y="329.1" width="249.9" height="6.4" fill="#fff" stroke="none" stroke-width="1"/>
<line x1="87.5" y1="329.1" x2="102.5" y2="335.5" stroke="#111" stroke-width="0.9"/>
<line x1="90.5" y1="329.1" x2="107.4" y2="335.5" stroke="#111" stroke-width="0.9"/>
<line x1="107.2" y1="329.1" x2="110.3" y2="335.5" stroke="#111" stroke-width="0.9"/>
<line x1="154.5" y1="329.1" x2="115.4" y2="335.5" stroke="#111" stroke-width="0.9"/>
<line x1="161.2" y1="329.1" x2="168.3" y2="335.5" stroke="#111" stroke-width="0.9"/>
<line x1="225.6" y1="329.1" x2="186.2" y2="335.5" stroke="#111" stroke-width="0.9"/>
<line x1="245.4" y1="329.1" x2="309.3" y2="335.5" stroke="#111" stroke-width="0.9"/>
<line x1="327.5" y1="329.1" x2="327.5" y2="335.5" stroke="#999" stroke-width="0.8"/>
<rect x="77.6" y="270.4" width="25" height="25.9" fill="#abd2a4" stroke="#222" stroke-width="0.8"/>
<rect x="102.6" y="270.4" width="20.6" height="25.9" fill="#98c48b" stroke="#222" stroke-width="0.8"/>
<rect x="123.2" y="270.4" width="2.5" height="25.9" fill="#b8c98e" stroke="#222" stroke-width="0.8"/>
<rect x="125.7" y="270.4" width="42.8" height="25.9" fill="#dadfb0" stroke="#222" stroke-width="0.8"/>
<rect x="168.5" y="270.4" width="15.1" height="25.9" fill="#d5cb8e" stroke="#222" stroke-width="0.8"/>
<rect x="183.6" y="270.4" width="60.9" height="25.9" fill="#b99a5a" stroke="#222" stroke-width="0.8"/>
<rect x="244.5" y="270.4" width="19.9" height="25.9" fill="#a8794b" stroke="#222" stroke-width="0.8"/>
<rect x="264.4" y="270.4" width="63.1" height="25.9" fill="#7f4c22" stroke="#222" stroke-width="0.8"/>
<text x="90.1" y="288.15" font-size="13" text-anchor="middle" font-weight="normal" fill="#111" stroke="#111" stroke-width="0.3">10%</text>
<text x="112.9" y="288.15" font-size="13" text-anchor="middle" font-weight="normal" fill="#111" stroke="#111" stroke-width="0.3">8%</text>
<text x="147.1" y="288.15" font-size="13" text-anchor="middle" font-weight="normal" fill="#111" stroke="#111" stroke-width="0.3">17%</text>
<text x="214.05" y="288.15" font-size="13" text-anchor="middle" font-weight="normal" fill="#111" stroke="#111" stroke-width="0.3">24%</text>
<text x="254.45" y="288.15" font-size="13" text-anchor="middle" font-weight="normal" fill="#111" stroke="#111" stroke-width="0.3">8%</text>
<text x="295.95" y="288.15" font-size="13" text-anchor="middle" font-weight="normal" fill="#fff" stroke="#fff" stroke-width="0.3">25%</text>
<rect x="77.6" y="303.2" width="9.9" height="25.9" fill="#abd2a4" stroke="#222" stroke-width="0.8"/>
<rect x="87.5" y="303.2" width="3" height="25.9" fill="#98c48b" stroke="#222" stroke-width="0.8"/>
<rect x="90.5" y="303.2" width="16.7" height="25.9" fill="#b8c98e" stroke="#222" stroke-width="0.8"/>
<rect x="107.2" y="303.2" width="47.3" height="25.9" fill="#dadfb0" stroke="#222" stroke-width="0.8"/>
<rect x="154.5" y="303.2" width="6.7" height="25.9" fill="#d5cb8e" stroke="#222" stroke-width="0.8"/>
<rect x="161.2" y="303.2" width="64.4" height="25.9" fill="#b99a5a" stroke="#222" stroke-width="0.8"/>
<rect x="225.6" y="303.2" width="19.8" height="25.9" fill="#a8794b" stroke="#222" stroke-width="0.8"/>
<rect x="245.4" y="303.2" width="82.1" height="25.9" fill="#7f4c22" stroke="#222" stroke-width="0.8"/>
<text x="130.85" y="320.95" font-size="13" text-anchor="middle" font-weight="normal" fill="#111" stroke="#111" stroke-width="0.3">19%</text>
<text x="193.4" y="320.95" font-size="13" text-anchor="middle" font-weight="normal" fill="#111" stroke="#111" stroke-width="0.3">26%</text>
<text x="286.45" y="320.95" font-size="13" text-anchor="middle" font-weight="normal" fill="#fff" stroke="#fff" stroke-width="0.3">33%</text>
<rect x="77.6" y="335.5" width="24.9" height="25.8" fill="#abd2a4" stroke="#222" stroke-width="0.8"/>
<rect x="102.5" y="335.5" width="4.9" height="25.8" fill="#98c48b" stroke="#222" stroke-width="0.8"/>
<rect x="107.4" y="335.5" width="2.9" height="25.8" fill="#b8c98e" stroke="#222" stroke-width="0.8"/>
<rect x="110.3" y="335.5" width="5.1" height="25.8" fill="#dadfb0" stroke="#222" stroke-width="0.8"/>
<rect x="115.4" y="335.5" width="52.9" height="25.8" fill="#d5cb8e" stroke="#222" stroke-width="0.8"/>
<rect x="168.3" y="335.5" width="17.9" height="25.8" fill="#b99a5a" stroke="#222" stroke-width="0.8"/>
<rect x="186.2" y="335.5" width="123.1" height="25.8" fill="#a8794b" stroke="#222" stroke-width="0.8"/>
<rect x="309.3" y="335.5" width="18.2" height="25.8" fill="#7f4c22" stroke="#222" stroke-width="0.8"/>
<text x="90.05" y="353.2" font-size="13" text-anchor="middle" font-weight="normal" fill="#111" stroke="#111" stroke-width="0.3">10%</text>
<text x="141.85" y="353.2" font-size="13" text-anchor="middle" font-weight="normal" fill="#111" stroke="#111" stroke-width="0.3">21%</text>
<text x="247.75" y="353.2" font-size="13" text-anchor="middle" font-weight="normal" fill="#111" stroke="#111" stroke-width="0.3">49%</text>
<line x1="77.6" y1="265" x2="77.6" y2="364.8" stroke="#222" stroke-width="1.2"/>
<line x1="77.6" y1="364.2" x2="327.5" y2="364.2" stroke="#333" stroke-width="1.2"/>
<line x1="73.8" y1="283.35" x2="77.6" y2="283.35" stroke="#222" stroke-width="1.2"/>
<line x1="73.8" y1="316.15" x2="77.6" y2="316.15" stroke="#222" stroke-width="1.2"/>
<line x1="73.8" y1="348.4" x2="77.6" y2="348.4" stroke="#222" stroke-width="1.2"/>
<line x1="77.6" y1="364.2" x2="77.6" y2="368.6" stroke="#222" stroke-width="1.2"/>
<text x="77.6" y="382.8" font-size="15.5" text-anchor="middle" font-weight="normal" fill="#000" stroke="#000" stroke-width="0.3">0</text>
<line x1="127.58" y1="364.2" x2="127.58" y2="368.6" stroke="#222" stroke-width="1.2"/>
<text x="127.58" y="382.8" font-size="15.5" text-anchor="middle" font-weight="normal" fill="#000" stroke="#000" stroke-width="0.3">20</text>
<line x1="177.56" y1="364.2" x2="177.56" y2="368.6" stroke="#222" stroke-width="1.2"/>
<text x="177.56" y="382.8" font-size="15.5" text-anchor="middle" font-weight="normal" fill="#000" stroke="#000" stroke-width="0.3">40</text>
<line x1="227.54" y1="364.2" x2="227.54" y2="368.6" stroke="#222" stroke-width="1.2"/>
<text x="227.54" y="382.8" font-size="15.5" text-anchor="middle" font-weight="normal" fill="#000" stroke="#000" stroke-width="0.3">60</text>
<line x1="277.52" y1="364.2" x2="277.52" y2="368.6" stroke="#222" stroke-width="1.2"/>
<text x="277.52" y="382.8" font-size="15.5" text-anchor="middle" font-weight="normal" fill="#000" stroke="#000" stroke-width="0.3">80</text>
<line x1="327.5" y1="364.2" x2="327.5" y2="368.6" stroke="#222" stroke-width="1.2"/>
<text x="327.5" y="382.8" font-size="15.5" text-anchor="middle" font-weight="normal" fill="#000" stroke="#000" stroke-width="0.3">100</text>
<text x="203.55" y="403" font-size="15.8" text-anchor="middle" font-weight="normal" fill="#000" stroke="#000" stroke-width="0.3">Relative contribution (%, <tspan font-style="italic">n</tspan> = 138)</text>
<rect x="371.6" y="296.3" width="249.6" height="6.9" fill="#fff" stroke="none" stroke-width="1"/>
<line x1="426.3" y1="296.3" x2="438.8" y2="303.2" stroke="#111" stroke-width="0.9"/>
<line x1="467.5" y1="296.3" x2="458.5" y2="303.2" stroke="#111" stroke-width="0.9"/>
<line x1="476.3" y1="296.3" x2="467.2" y2="303.2" stroke="#111" stroke-width="0.9"/>
<line x1="510.2" y1="296.3" x2="471.2" y2="303.2" stroke="#111" stroke-width="0.9"/>
<line x1="519.7" y1="296.3" x2="473.5" y2="303.2" stroke="#111" stroke-width="0.9"/>
<line x1="573.4" y1="296.3" x2="544.3" y2="303.2" stroke="#111" stroke-width="0.9"/>
<line x1="595.3" y1="296.3" x2="549.3" y2="303.2" stroke="#111" stroke-width="0.9"/>
<line x1="621.2" y1="296.3" x2="621.2" y2="303.2" stroke="#999" stroke-width="0.8"/>
<rect x="371.6" y="329.1" width="249.6" height="6.4" fill="#fff" stroke="none" stroke-width="1"/>
<line x1="438.8" y1="329.1" x2="373.3" y2="335.5" stroke="#111" stroke-width="0.9"/>
<line x1="458.5" y1="329.1" x2="395.4" y2="335.5" stroke="#111" stroke-width="0.9"/>
<line x1="467.2" y1="329.1" x2="399.4" y2="335.5" stroke="#111" stroke-width="0.9"/>
<line x1="471.2" y1="329.1" x2="412.5" y2="335.5" stroke="#111" stroke-width="0.9"/>
<line x1="473.5" y1="329.1" x2="543.6" y2="335.5" stroke="#111" stroke-width="0.9"/>
<line x1="544.3" y1="329.1" x2="551.2" y2="335.5" stroke="#111" stroke-width="0.9"/>
<line x1="549.3" y1="329.1" x2="606.5" y2="335.5" stroke="#111" stroke-width="0.9"/>
<line x1="621.2" y1="329.1" x2="621.2" y2="335.5" stroke="#999" stroke-width="0.8"/>
<rect x="371.6" y="270.4" width="54.7" height="25.9" fill="#abd2a4" stroke="#222" stroke-width="0.8"/>
<rect x="426.3" y="270.4" width="41.2" height="25.9" fill="#98c48b" stroke="#222" stroke-width="0.8"/>
<rect x="467.5" y="270.4" width="8.8" height="25.9" fill="#b8c98e" stroke="#222" stroke-width="0.8"/>
<rect x="476.3" y="270.4" width="33.9" height="25.9" fill="#dadfb0" stroke="#222" stroke-width="0.8"/>
<rect x="510.2" y="270.4" width="9.5" height="25.9" fill="#d5cb8e" stroke="#222" stroke-width="0.8"/>
<rect x="519.7" y="270.4" width="53.7" height="25.9" fill="#b99a5a" stroke="#222" stroke-width="0.8"/>
<rect x="573.4" y="270.4" width="21.9" height="25.9" fill="#a8794b" stroke="#222" stroke-width="0.8"/>
<rect x="595.3" y="270.4" width="25.9" height="25.9" fill="#7f4c22" stroke="#222" stroke-width="0.8"/>
<text x="398.95" y="288.15" font-size="13" text-anchor="middle" font-weight="normal" fill="#111" stroke="#111" stroke-width="0.3">22%</text>
<text x="446.9" y="288.15" font-size="13" text-anchor="middle" font-weight="normal" fill="#111" stroke="#111" stroke-width="0.3">16%</text>
<text x="493.25" y="288.15" font-size="13" text-anchor="middle" font-weight="normal" fill="#111" stroke="#111" stroke-width="0.3">14%</text>
<text x="546.55" y="288.15" font-size="13" text-anchor="middle" font-weight="normal" fill="#111" stroke="#111" stroke-width="0.3">21%</text>
<text x="584.35" y="288.15" font-size="13" text-anchor="middle" font-weight="normal" fill="#111" stroke="#111" stroke-width="0.3">9%</text>
<text x="608.25" y="288.15" font-size="13" text-anchor="middle" font-weight="normal" fill="#fff" stroke="#fff" stroke-width="0.3">10%</text>
<rect x="371.6" y="303.2" width="67.2" height="25.9" fill="#abd2a4" stroke="#222" stroke-width="0.8"/>
<rect x="438.8" y="303.2" width="19.7" height="25.9" fill="#98c48b" stroke="#222" stroke-width="0.8"/>
<rect x="458.5" y="303.2" width="8.7" height="25.9" fill="#b8c98e" stroke="#222" stroke-width="0.8"/>
<rect x="467.2" y="303.2" width="4" height="25.9" fill="#dadfb0" stroke="#222" stroke-width="0.8"/>
<rect x="471.2" y="303.2" width="2.3" height="25.9" fill="#d5cb8e" stroke="#222" stroke-width="0.8"/>
<rect x="473.5" y="303.2" width="70.8" height="25.9" fill="#b99a5a" stroke="#222" stroke-width="0.8"/>
<rect x="544.3" y="303.2" width="5" height="25.9" fill="#a8794b" stroke="#222" stroke-width="0.8"/>
<rect x="549.3" y="303.2" width="71.9" height="25.9" fill="#7f4c22" stroke="#222" stroke-width="0.8"/>
<text x="405.2" y="320.95" font-size="13" text-anchor="middle" font-weight="normal" fill="#111" stroke="#111" stroke-width="0.3">27%</text>
<text x="508.9" y="320.95" font-size="13" text-anchor="middle" font-weight="normal" fill="#111" stroke="#111" stroke-width="0.3">28%</text>
<text x="585.25" y="320.95" font-size="13" text-anchor="middle" font-weight="normal" fill="#fff" stroke="#fff" stroke-width="0.3">29%</text>
<rect x="371.6" y="335.5" width="1.7" height="25.8" fill="#abd2a4" stroke="#222" stroke-width="0.8"/>
<rect x="373.3" y="335.5" width="22.1" height="25.8" fill="#98c48b" stroke="#222" stroke-width="0.8"/>
<rect x="395.4" y="335.5" width="4" height="25.8" fill="#b8c98e" stroke="#222" stroke-width="0.8"/>
<rect x="399.4" y="335.5" width="13.1" height="25.8" fill="#dadfb0" stroke="#222" stroke-width="0.8"/>
<rect x="412.5" y="335.5" width="131.1" height="25.8" fill="#d5cb8e" stroke="#222" stroke-width="0.8"/>
<rect x="543.6" y="335.5" width="7.6" height="25.8" fill="#b99a5a" stroke="#222" stroke-width="0.8"/>
<rect x="551.2" y="335.5" width="55.3" height="25.8" fill="#a8794b" stroke="#222" stroke-width="0.8"/>
<rect x="606.5" y="335.5" width="14.7" height="25.8" fill="#7f4c22" stroke="#222" stroke-width="0.8"/>
<text x="384.35" y="353.2" font-size="13" text-anchor="middle" font-weight="normal" fill="#111" stroke="#111" stroke-width="0.3">9%</text>
<text x="478.05" y="353.2" font-size="13" text-anchor="middle" font-weight="normal" fill="#111" stroke="#111" stroke-width="0.3">53%</text>
<text x="578.85" y="353.2" font-size="13" text-anchor="middle" font-weight="normal" fill="#111" stroke="#111" stroke-width="0.3">22%</text>
<line x1="371.6" y1="265" x2="371.6" y2="364.8" stroke="#222" stroke-width="1.2"/>
<line x1="371.6" y1="364.2" x2="621.2" y2="364.2" stroke="#333" stroke-width="1.2"/>
<line x1="367.8" y1="283.35" x2="371.6" y2="283.35" stroke="#222" stroke-width="1.2"/>
<line x1="367.8" y1="316.15" x2="371.6" y2="316.15" stroke="#222" stroke-width="1.2"/>
<line x1="367.8" y1="348.4" x2="371.6" y2="348.4" stroke="#222" stroke-width="1.2"/>
<line x1="371.6" y1="364.2" x2="371.6" y2="368.6" stroke="#222" stroke-width="1.2"/>
<text x="371.6" y="382.8" font-size="15.5" text-anchor="middle" font-weight="normal" fill="#000" stroke="#000" stroke-width="0.3">0</text>
<line x1="421.52" y1="364.2" x2="421.52" y2="368.6" stroke="#222" stroke-width="1.2"/>
<text x="421.52" y="382.8" font-size="15.5" text-anchor="middle" font-weight="normal" fill="#000" stroke="#000" stroke-width="0.3">20</text>
<line x1="471.44" y1="364.2" x2="471.44" y2="368.6" stroke="#222" stroke-width="1.2"/>
<text x="471.44" y="382.8" font-size="15.5" text-anchor="middle" font-weight="normal" fill="#000" stroke="#000" stroke-width="0.3">40</text>
<line x1="521.36" y1="364.2" x2="521.36" y2="368.6" stroke="#222" stroke-width="1.2"/>
<text x="521.36" y="382.8" font-size="15.5" text-anchor="middle" font-weight="normal" fill="#000" stroke="#000" stroke-width="0.3">60</text>
<line x1="571.28" y1="364.2" x2="571.28" y2="368.6" stroke="#222" stroke-width="1.2"/>
<text x="571.28" y="382.8" font-size="15.5" text-anchor="middle" font-weight="normal" fill="#000" stroke="#000" stroke-width="0.3">80</text>
<line x1="621.2" y1="364.2" x2="621.2" y2="368.6" stroke="#222" stroke-width="1.2"/>
<text x="621.2" y="382.8" font-size="15.5" text-anchor="middle" font-weight="normal" fill="#000" stroke="#000" stroke-width="0.3">100</text>
<text x="497.4" y="403" font-size="15.8" text-anchor="middle" font-weight="normal" fill="#000" stroke="#000" stroke-width="0.3">Relative contribution (%, <tspan font-style="italic">n</tspan> = 79)</text>
<text x="67.8" y="290.95" font-size="15.8" text-anchor="end" font-weight="normal" fill="#000" stroke="#000" stroke-width="0.3">AM+AM</text>
<text x="68.8" y="322.05" font-size="15.8" text-anchor="end" font-weight="normal" fill="#000" stroke="#000" stroke-width="0.3">AM+EcM</text>
<text x="70.6" y="354.3" font-size="15.8" text-anchor="end" font-weight="normal" fill="#000" stroke="#000" stroke-width="0.3">EcM+EcM</text>
<rect x="77.7" y="248.3" width="25.8" height="15.8" fill="#abd2a4" stroke="#555" stroke-width="0.8"/>
<text x="108.2" y="261.2" font-size="14.5" text-anchor="start" font-weight="normal" fill="#000" stroke="#000" stroke-width="0.3">RD</text>
<rect x="145.1" y="248.3" width="25.8" height="15.8" fill="#98c48b" stroke="#555" stroke-width="0.8"/>
<text x="175.6" y="261.2" font-size="14.5" text-anchor="start" font-weight="normal" fill="#000" stroke="#000" stroke-width="0.3">SRL</text>
<rect x="219.4" y="248.3" width="25.8" height="15.8" fill="#b8c98e" stroke="#555" stroke-width="0.8"/>
<text x="249.9" y="261.2" font-size="14.5" text-anchor="start" font-weight="normal" fill="#000" stroke="#000" stroke-width="0.3">RTD</text>
<rect x="296" y="248.3" width="25.8" height="15.8" fill="#dadfb0" stroke="#555" stroke-width="0.8"/>
<text x="326.5" y="261.2" font-size="14.5" text-anchor="start" font-weight="normal" fill="#000" stroke="#000" stroke-width="0.3">C</text>
<rect x="352.6" y="248.3" width="25.8" height="15.8" fill="#d5cb8e" stroke="#555" stroke-width="0.8"/>
<text x="383.1" y="261.2" font-size="14.5" text-anchor="start" font-weight="normal" fill="#000" stroke="#000" stroke-width="0.3">N</text>
<rect x="409.6" y="248.3" width="25.8" height="15.8" fill="#b99a5a" stroke="#555" stroke-width="0.8"/>
<text x="440.1" y="261.2" font-size="14.5" text-anchor="start" font-weight="normal" fill="#000" stroke="#000" stroke-width="0.3">CTs</text>
<rect x="482.6" y="248.3" width="25.8" height="15.8" fill="#a8794b" stroke="#555" stroke-width="0.8"/>
<text x="513.1" y="261.2" font-size="14.5" text-anchor="start" font-weight="normal" fill="#000" stroke="#000" stroke-width="0.3">C:N</text>
<rect x="554" y="248.3" width="25.8" height="15.8" fill="#7f4c22" stroke="#555" stroke-width="0.8"/>
<text x="584.5" y="261.2" font-size="14.5" text-anchor="start" font-weight="normal" fill="#000" stroke="#000" stroke-width="0.3">CTs:N</text>
<text x="22.5" y="260.3" font-size="19" text-anchor="start" font-weight="bold" fill="#000">c</text>
<polygon points="154,423.1 160,432.5 148,432.5" fill="#4a74c4" stroke="#3560b0" stroke-width="0.8" fill-opacity="0.8"/>
<rect x="170.1" y="424.5" width="9" height="9" fill="#4a74c4" stroke="#3560b0" stroke-width="0.8" fill-opacity="0.8"/>
<circle cx="195.7" cy="428.8" r="4.8" fill="none" stroke="#3560b0" stroke-width="0.9"/>
<text x="211" y="434.5" font-size="15.5" text-anchor="start" font-weight="normal" fill="#000" stroke="#000" stroke-width="0.3">AM+AM</text>
<polygon points="294.3,423.1 300.3,432.5 288.3,432.5" fill="#93623a" stroke="#7f4c22" stroke-width="0.8" fill-opacity="0.8"/>
<rect x="311" y="424.5" width="9" height="9" fill="#93623a" stroke="#7f4c22" stroke-width="0.8" fill-opacity="0.8"/>
<circle cx="335.7" cy="428.8" r="4.8" fill="none" stroke="#7f4c22" stroke-width="0.9"/>
<text x="351.5" y="434.5" font-size="15.5" text-anchor="start" font-weight="normal" fill="#000" stroke="#000" stroke-width="0.3">AM+EcM</text>
<polygon points="438.5,423.1 444.5,432.5 432.5,432.5" fill="#8dab40" stroke="#7a9a2e" stroke-width="0.8" fill-opacity="0.8"/>
<rect x="454.9" y="424.5" width="9" height="9" fill="#8dab40" stroke="#7a9a2e" stroke-width="0.8" fill-opacity="0.8"/>
<circle cx="480.2" cy="428.8" r="4.8" fill="none" stroke="#7a9a2e" stroke-width="0.9"/>
<text x="495.5" y="434.5" font-size="15.5" text-anchor="start" font-weight="normal" fill="#000" stroke="#000" stroke-width="0.3">EcM+EcM</text>
<circle cx="109.3" cy="567.8" r="3.5" fill="none" stroke="#3560b0" stroke-width="0.8" stroke-opacity="0.85"/>
<circle cx="116.9" cy="572.6" r="3.5" fill="none" stroke="#3560b0" stroke-width="0.8" stroke-opacity="0.85"/>
<circle cx="150.1" cy="560.2" r="3.5" fill="none" stroke="#3560b0" stroke-width="0.8" stroke-opacity="0.85"/>
<circle cx="158.7" cy="565.9" r="3.5" fill="none" stroke="#3560b0" stroke-width="0.8" stroke-opacity="0.85"/>
<circle cx="146.3" cy="569.7" r="3.5" fill="none" stroke="#3560b0" stroke-width="0.8" stroke-opacity="0.85"/>
<circle cx="144.4" cy="571.6" r="3.5" fill="none" stroke="#3560b0" stroke-width="0.8" stroke-opacity="0.85"/>
<circle cx="175.7" cy="565.9" r="3.5" fill="none" stroke="#3560b0" stroke-width="0.8" stroke-opacity="0.85"/>
<circle cx="188" cy="578.3" r="3.5" fill="none" stroke="#3560b0" stroke-width="0.8" stroke-opacity="0.85"/>
<circle cx="193.8" cy="583.9" r="3.5" fill="none" stroke="#3560b0" stroke-width="0.8" stroke-opacity="0.85"/>
<circle cx="195.7" cy="571.6" r="3.5" fill="none" stroke="#3560b0" stroke-width="0.8" stroke-opacity="0.85"/>
<circle cx="204.2" cy="569.3" r="3.5" fill="none" stroke="#3560b0" stroke-width="0.8" stroke-opacity="0.85"/>
<circle cx="224.7" cy="577.1" r="3.5" fill="none" stroke="#3560b0" stroke-width="0.8" stroke-opacity="0.85"/>
<circle cx="226.6" cy="581.8" r="3.5" fill="none" stroke="#3560b0" stroke-width="0.8" stroke-opacity="0.85"/>
<circle cx="226.2" cy="592.3" r="3.5" fill="none" stroke="#3560b0" stroke-width="0.8" stroke-opacity="0.85"/>
<circle cx="230.4" cy="572.3" r="3.5" fill="none" stroke="#3560b0" stroke-width="0.8" stroke-opacity="0.85"/>
<circle cx="211" cy="590.7" r="3.5" fill="none" stroke="#3560b0" stroke-width="0.8" stroke-opacity="0.85"/>
<circle cx="264.5" cy="588.5" r="3.5" fill="none" stroke="#3560b0" stroke-width="0.8" stroke-opacity="0.85"/>
<circle cx="266.4" cy="590" r="3.5" fill="none" stroke="#3560b0" stroke-width="0.8" stroke-opacity="0.85"/>
<circle cx="289.6" cy="576.7" r="3.5" fill="none" stroke="#3560b0" stroke-width="0.8" stroke-opacity="0.85"/>
<circle cx="211.8" cy="564.7" r="3.5" fill="none" stroke="#3560b0" stroke-width="0.8" stroke-opacity="0.85"/>
<circle cx="205.3" cy="569.1" r="3.5" fill="none" stroke="#3560b0" stroke-width="0.8" stroke-opacity="0.85"/>
<circle cx="142.1" cy="594.5" r="3.5" fill="none" stroke="#3560b0" stroke-width="0.8" stroke-opacity="0.85"/>
<circle cx="114" cy="567.8" r="3.5" fill="none" stroke="#7f4c22" stroke-width="0.8" stroke-opacity="0.85"/>
<circle cx="134" cy="577.3" r="3.5" fill="none" stroke="#7f4c22" stroke-width="0.8" stroke-opacity="0.85"/>
<circle cx="170" cy="574.5" r="3.5" fill="none" stroke="#7f4c22" stroke-width="0.8" stroke-opacity="0.85"/>
<circle cx="176.7" cy="578.3" r="3.5" fill="none" stroke="#7f4c22" stroke-width="0.8" stroke-opacity="0.85"/>
<circle cx="195.7" cy="569.7" r="3.5" fill="none" stroke="#7f4c22" stroke-width="0.8" stroke-opacity="0.85"/>
<circle cx="257.3" cy="563.4" r="3.5" fill="none" stroke="#7f4c22" stroke-width="0.8" stroke-opacity="0.85"/>
<circle cx="212.3" cy="571.8" r="3.5" fill="none" stroke="#7f4c22" stroke-width="0.8" stroke-opacity="0.85"/>
<circle cx="233.2" cy="571.8" r="3.5" fill="none" stroke="#7f4c22" stroke-width="0.8" stroke-opacity="0.85"/>
<circle cx="228.1" cy="587.1" r="3.5" fill="none" stroke="#7f4c22" stroke-width="0.8" stroke-opacity="0.85"/>
<circle cx="107.4" cy="572.6" r="3.5" fill="none" stroke="#7a9a2e" stroke-width="0.8" stroke-opacity="0.85"/>
<circle cx="117.9" cy="570.7" r="3.5" fill="none" stroke="#7a9a2e" stroke-width="0.8" stroke-opacity="0.85"/>
<circle cx="128.3" cy="572.6" r="3.5" fill="none" stroke="#7a9a2e" stroke-width="0.8" stroke-opacity="0.85"/>
<circle cx="151.1" cy="573.5" r="3.5" fill="none" stroke="#7a9a2e" stroke-width="0.8" stroke-opacity="0.85"/>
<circle cx="178.6" cy="572.6" r="3.5" fill="none" stroke="#7a9a2e" stroke-width="0.8" stroke-opacity="0.85"/>
<circle cx="187.1" cy="583.9" r="3.5" fill="none" stroke="#7a9a2e" stroke-width="0.8" stroke-opacity="0.85"/>
<rect x="107.6" y="630.6" width="6" height="6" fill="#4a74c4" stroke="#3560b0" stroke-width="0.7" fill-opacity="0.7" stroke-opacity="0.8"/>
<rect x="126.2" y="632.5" width="6" height="6" fill="#4a74c4" stroke="#3560b0" stroke-width="0.7" fill-opacity="0.7" stroke-opacity="0.8"/>
<rect x="133.5" y="619.6" width="6" height="6" fill="#4a74c4" stroke="#3560b0" stroke-width="0.7" fill-opacity="0.7" stroke-opacity="0.8"/>
<rect x="130.4" y="610.5" width="6" height="6" fill="#4a74c4" stroke="#3560b0" stroke-width="0.7" fill-opacity="0.7" stroke-opacity="0.8"/>
<rect x="133.5" y="604.8" width="6" height="6" fill="#4a74c4" stroke="#3560b0" stroke-width="0.7" fill-opacity="0.7" stroke-opacity="0.8"/>
<rect x="129.7" y="596.5" width="6" height="6" fill="#4a74c4" stroke="#3560b0" stroke-width="0.7" fill-opacity="0.7" stroke-opacity="0.8"/>
<rect x="154.7" y="606.3" width="6" height="6" fill="#4a74c4" stroke="#3560b0" stroke-width="0.7" fill-opacity="0.7" stroke-opacity="0.8"/>
<rect x="172.7" y="600.3" width="6" height="6" fill="#4a74c4" stroke="#3560b0" stroke-width="0.7" fill-opacity="0.7" stroke-opacity="0.8"/>
<rect x="171.4" y="607.3" width="6" height="6" fill="#4a74c4" stroke="#3560b0" stroke-width="0.7" fill-opacity="0.7" stroke-opacity="0.8"/>
<rect x="192.7" y="618.1" width="6" height="6" fill="#4a74c4" stroke="#3560b0" stroke-width="0.7" fill-opacity="0.7" stroke-opacity="0.8"/>
<rect x="196.8" y="594.6" width="6" height="6" fill="#4a74c4" stroke="#3560b0" stroke-width="0.7" fill-opacity="0.7" stroke-opacity="0.8"/>
<rect x="219.4" y="623" width="6" height="6" fill="#4a74c4" stroke="#3560b0" stroke-width="0.7" fill-opacity="0.7" stroke-opacity="0.8"/>
<rect x="124.7" y="598.4" width="6" height="6" fill="#93623a" stroke="#7f4c22" stroke-width="0.7" fill-opacity="0.7" stroke-opacity="0.8"/>
<rect x="141.8" y="596.9" width="6" height="6" fill="#93623a" stroke="#7f4c22" stroke-width="0.7" fill-opacity="0.7" stroke-opacity="0.8"/>
<rect x="146.2" y="592.1" width="6" height="6" fill="#93623a" stroke="#7f4c22" stroke-width="0.7" fill-opacity="0.7" stroke-opacity="0.8"/>
<rect x="199.3" y="589.6" width="6" height="6" fill="#93623a" stroke="#7f4c22" stroke-width="0.7" fill-opacity="0.7" stroke-opacity="0.8"/>
<rect x="129.7" y="591.2" width="6" height="6" fill="#8dab40" stroke="#7a9a2e" stroke-width="0.7" fill-opacity="0.7" stroke-opacity="0.8"/>
<rect x="151.9" y="595" width="6" height="6" fill="#8dab40" stroke="#7a9a2e" stroke-width="0.7" fill-opacity="0.7" stroke-opacity="0.8"/>
<polygon points="105.5,514.9 109.3,521.5 101.7,521.5" fill="#4a74c4" stroke="#3560b0" stroke-width="0.9" fill-opacity="0.7" stroke-opacity="0.9"/>
<polygon points="130.8,513 134.6,519.6 127,519.6" fill="#4a74c4" stroke="#3560b0" stroke-width="0.9" fill-opacity="0.7" stroke-opacity="0.9"/>
<polygon points="143.5,528.2 147.3,534.8 139.7,534.8" fill="#4a74c4" stroke="#3560b0" stroke-width="0.9" fill-opacity="0.7" stroke-opacity="0.9"/>
<polygon points="106.5,540.5 110.3,547.1 102.7,547.1" fill="#4a74c4" stroke="#3560b0" stroke-width="0.9" fill-opacity="0.7" stroke-opacity="0.9"/>
<polygon points="132.1,543.3 135.9,549.9 128.3,549.9" fill="#4a74c4" stroke="#3560b0" stroke-width="0.9" fill-opacity="0.7" stroke-opacity="0.9"/>
<polygon points="147.3,545.2 151.1,551.8 143.5,551.8" fill="#4a74c4" stroke="#3560b0" stroke-width="0.9" fill-opacity="0.7" stroke-opacity="0.9"/>
<polygon points="159.2,550.9 163,557.5 155.4,557.5" fill="#4a74c4" stroke="#3560b0" stroke-width="0.9" fill-opacity="0.7" stroke-opacity="0.9"/>
<polygon points="168.7,548.1 172.5,554.7 164.9,554.7" fill="#4a74c4" stroke="#3560b0" stroke-width="0.9" fill-opacity="0.7" stroke-opacity="0.9"/>
<polygon points="172.9,538.6 176.7,545.2 169.1,545.2" fill="#4a74c4" stroke="#3560b0" stroke-width="0.9" fill-opacity="0.7" stroke-opacity="0.9"/>
<polygon points="185.2,546.8 189,553.4 181.4,553.4" fill="#4a74c4" stroke="#3560b0" stroke-width="0.9" fill-opacity="0.7" stroke-opacity="0.9"/>
<polygon points="202.3,523.4 206.1,530 198.5,530" fill="#4a74c4" stroke="#3560b0" stroke-width="0.9" fill-opacity="0.7" stroke-opacity="0.9"/>
<polygon points="204.8,544.3 208.6,550.9 201,550.9" fill="#4a74c4" stroke="#3560b0" stroke-width="0.9" fill-opacity="0.7" stroke-opacity="0.9"/>
<polygon points="222.4,510.1 226.2,516.7 218.6,516.7" fill="#4a74c4" stroke="#3560b0" stroke-width="0.9" fill-opacity="0.7" stroke-opacity="0.9"/>
<polygon points="251.6,514.5 255.4,521.1 247.8,521.1" fill="#4a74c4" stroke="#3560b0" stroke-width="0.9" fill-opacity="0.7" stroke-opacity="0.9"/>
<polygon points="288.3,528.2 292.1,534.8 284.5,534.8" fill="#4a74c4" stroke="#3560b0" stroke-width="0.9" fill-opacity="0.7" stroke-opacity="0.9"/>
<polygon points="222.8,534.8 226.6,541.4 219,541.4" fill="#4a74c4" stroke="#3560b0" stroke-width="0.9" fill-opacity="0.7" stroke-opacity="0.9"/>
<polygon points="227.9,540.1 231.7,546.7 224.1,546.7" fill="#4a74c4" stroke="#3560b0" stroke-width="0.9" fill-opacity="0.7" stroke-opacity="0.9"/>
<polygon points="205.3,544.9 209.1,551.5 201.5,551.5" fill="#4a74c4" stroke="#3560b0" stroke-width="0.9" fill-opacity="0.7" stroke-opacity="0.9"/>
<polygon points="240.4,546.2 244.2,552.8 236.6,552.8" fill="#4a74c4" stroke="#3560b0" stroke-width="0.9" fill-opacity="0.7" stroke-opacity="0.9"/>
<polygon points="237.6,550.9 241.4,557.5 233.8,557.5" fill="#4a74c4" stroke="#3560b0" stroke-width="0.9" fill-opacity="0.7" stroke-opacity="0.9"/>
<polygon points="188,502.5 191.8,509.1 184.2,509.1" fill="#93623a" stroke="#7f4c22" stroke-width="0.9" fill-opacity="0.7" stroke-opacity="0.9"/>
<polygon points="165.3,516.4 169.1,523 161.5,523" fill="#93623a" stroke="#7f4c22" stroke-width="0.9" fill-opacity="0.7" stroke-opacity="0.9"/>
<polygon points="175.7,519.6 179.5,526.2 171.9,526.2" fill="#93623a" stroke="#7f4c22" stroke-width="0.9" fill-opacity="0.7" stroke-opacity="0.9"/>
<polygon points="118.8,524.4 122.6,531 115,531" fill="#93623a" stroke="#7f4c22" stroke-width="0.9" fill-opacity="0.7" stroke-opacity="0.9"/>
<polygon points="154.9,522.5 158.7,529.1 151.1,529.1" fill="#93623a" stroke="#7f4c22" stroke-width="0.9" fill-opacity="0.7" stroke-opacity="0.9"/>
<polygon points="152,529.1 155.8,535.7 148.2,535.7" fill="#93623a" stroke="#7f4c22" stroke-width="0.9" fill-opacity="0.7" stroke-opacity="0.9"/>
<polygon points="190,525.9 193.8,532.5 186.2,532.5" fill="#93623a" stroke="#7f4c22" stroke-width="0.9" fill-opacity="0.7" stroke-opacity="0.9"/>
<polygon points="112.2,543.4 116,550 108.4,550" fill="#93623a" stroke="#7f4c22" stroke-width="0.9" fill-opacity="0.7" stroke-opacity="0.9"/>
<polygon points="123.5,548.1 127.3,554.7 119.7,554.7" fill="#93623a" stroke="#7f4c22" stroke-width="0.9" fill-opacity="0.7" stroke-opacity="0.9"/>
<polygon points="138.4,547.1 142.2,553.7 134.6,553.7" fill="#93623a" stroke="#7f4c22" stroke-width="0.9" fill-opacity="0.7" stroke-opacity="0.9"/>
<polygon points="140.6,548.1 144.4,554.7 136.8,554.7" fill="#93623a" stroke="#7f4c22" stroke-width="0.9" fill-opacity="0.7" stroke-opacity="0.9"/>
<polygon points="149.2,550.9 153,557.5 145.4,557.5" fill="#93623a" stroke="#7f4c22" stroke-width="0.9" fill-opacity="0.7" stroke-opacity="0.9"/>
<polygon points="163.4,548.1 167.2,554.7 159.6,554.7" fill="#93623a" stroke="#7f4c22" stroke-width="0.9" fill-opacity="0.7" stroke-opacity="0.9"/>
<polygon points="135,560.4 138.8,567 131.2,567" fill="#93623a" stroke="#7f4c22" stroke-width="0.9" fill-opacity="0.7" stroke-opacity="0.9"/>
<polygon points="138.7,562.3 142.5,568.9 134.9,568.9" fill="#93623a" stroke="#7f4c22" stroke-width="0.9" fill-opacity="0.7" stroke-opacity="0.9"/>
<polygon points="155.8,558.5 159.6,565.1 152,565.1" fill="#93623a" stroke="#7f4c22" stroke-width="0.9" fill-opacity="0.7" stroke-opacity="0.9"/>
<polygon points="177.6,558.5 181.4,565.1 173.8,565.1" fill="#93623a" stroke="#7f4c22" stroke-width="0.9" fill-opacity="0.7" stroke-opacity="0.9"/>
<polygon points="176.7,563.3 180.5,569.9 172.9,569.9" fill="#93623a" stroke="#7f4c22" stroke-width="0.9" fill-opacity="0.7" stroke-opacity="0.9"/>
<polygon points="201.4,558.1 205.2,564.7 197.6,564.7" fill="#93623a" stroke="#7f4c22" stroke-width="0.9" fill-opacity="0.7" stroke-opacity="0.9"/>
<polygon points="219.5,516.8 223.3,523.4 215.7,523.4" fill="#93623a" stroke="#7f4c22" stroke-width="0.9" fill-opacity="0.7" stroke-opacity="0.9"/>
<polygon points="247.4,532.9 251.2,539.5 243.6,539.5" fill="#93623a" stroke="#7f4c22" stroke-width="0.9" fill-opacity="0.7" stroke-opacity="0.9"/>
<polygon points="253.5,532.9 257.3,539.5 249.7,539.5" fill="#93623a" stroke="#7f4c22" stroke-width="0.9" fill-opacity="0.7" stroke-opacity="0.9"/>
<polygon points="261.7,531.6 265.5,538.2 257.9,538.2" fill="#93623a" stroke="#7f4c22" stroke-width="0.9" fill-opacity="0.7" stroke-opacity="0.9"/>
<polygon points="211,541.1 214.8,547.7 207.2,547.7" fill="#93623a" stroke="#7f4c22" stroke-width="0.9" fill-opacity="0.7" stroke-opacity="0.9"/>
<polygon points="218,551.9 221.8,558.5 214.2,558.5" fill="#93623a" stroke="#7f4c22" stroke-width="0.9" fill-opacity="0.7" stroke-opacity="0.9"/>
<polygon points="208,554.7 211.8,561.3 204.2,561.3" fill="#93623a" stroke="#7f4c22" stroke-width="0.9" fill-opacity="0.7" stroke-opacity="0.9"/>
<polygon points="264.5,550.9 268.3,557.5 260.7,557.5" fill="#93623a" stroke="#7f4c22" stroke-width="0.9" fill-opacity="0.7" stroke-opacity="0.9"/>
<polygon points="267.4,550.9 271.2,557.5 263.6,557.5" fill="#93623a" stroke="#7f4c22" stroke-width="0.9" fill-opacity="0.7" stroke-opacity="0.9"/>
<polygon points="273.1,548.7 276.9,555.3 269.3,555.3" fill="#93623a" stroke="#7f4c22" stroke-width="0.9" fill-opacity="0.7" stroke-opacity="0.9"/>
<polygon points="269.8,560.4 273.6,567 266,567" fill="#93623a" stroke="#7f4c22" stroke-width="0.9" fill-opacity="0.7" stroke-opacity="0.9"/>
<polygon points="226.2,562.3 230,568.9 222.4,568.9" fill="#93623a" stroke="#7f4c22" stroke-width="0.9" fill-opacity="0.7" stroke-opacity="0.9"/>
<polygon points="175.7,500.6 179.5,507.2 171.9,507.2" fill="#8dab40" stroke="#7a9a2e" stroke-width="0.9" fill-opacity="0.7" stroke-opacity="0.9"/>
<polygon points="184.3,513 188.1,519.6 180.5,519.6" fill="#8dab40" stroke="#7a9a2e" stroke-width="0.9" fill-opacity="0.7" stroke-opacity="0.9"/>
<polygon points="197.6,513.9 201.4,520.5 193.8,520.5" fill="#8dab40" stroke="#7a9a2e" stroke-width="0.9" fill-opacity="0.7" stroke-opacity="0.9"/>
<polygon points="202.3,519.6 206.1,526.2 198.5,526.2" fill="#8dab40" stroke="#7a9a2e" stroke-width="0.9" fill-opacity="0.7" stroke-opacity="0.9"/>
<polygon points="127.7,522.5 131.5,529.1 123.9,529.1" fill="#8dab40" stroke="#7a9a2e" stroke-width="0.9" fill-opacity="0.7" stroke-opacity="0.9"/>
<polygon points="157.7,523.4 161.5,530 153.9,530" fill="#8dab40" stroke="#7a9a2e" stroke-width="0.9" fill-opacity="0.7" stroke-opacity="0.9"/>
<polygon points="176.7,527.2 180.5,533.8 172.9,533.8" fill="#8dab40" stroke="#7a9a2e" stroke-width="0.9" fill-opacity="0.7" stroke-opacity="0.9"/>
<polygon points="144.4,529.1 148.2,535.7 140.6,535.7" fill="#8dab40" stroke="#7a9a2e" stroke-width="0.9" fill-opacity="0.7" stroke-opacity="0.9"/>
<polygon points="163.4,531.9 167.2,538.5 159.6,538.5" fill="#8dab40" stroke="#7a9a2e" stroke-width="0.9" fill-opacity="0.7" stroke-opacity="0.9"/>
<polygon points="155.8,535.7 159.6,542.3 152,542.3" fill="#8dab40" stroke="#7a9a2e" stroke-width="0.9" fill-opacity="0.7" stroke-opacity="0.9"/>
<polygon points="114,540.5 117.8,547.1 110.2,547.1" fill="#8dab40" stroke="#7a9a2e" stroke-width="0.9" fill-opacity="0.7" stroke-opacity="0.9"/>
<polygon points="110.3,544.3 114.1,550.9 106.5,550.9" fill="#8dab40" stroke="#7a9a2e" stroke-width="0.9" fill-opacity="0.7" stroke-opacity="0.9"/>
<polygon points="123.5,551.9 127.3,558.5 119.7,558.5" fill="#8dab40" stroke="#7a9a2e" stroke-width="0.9" fill-opacity="0.7" stroke-opacity="0.9"/>
<polygon points="132.1,552.8 135.9,559.4 128.3,559.4" fill="#8dab40" stroke="#7a9a2e" stroke-width="0.9" fill-opacity="0.7" stroke-opacity="0.9"/>
<polygon points="190,551.9 193.8,558.5 186.2,558.5" fill="#8dab40" stroke="#7a9a2e" stroke-width="0.9" fill-opacity="0.7" stroke-opacity="0.9"/>
<polygon points="167.2,554.7 171,561.3 163.4,561.3" fill="#8dab40" stroke="#7a9a2e" stroke-width="0.9" fill-opacity="0.7" stroke-opacity="0.9"/>
<polygon points="106.5,562.3 110.3,568.9 102.7,568.9" fill="#8dab40" stroke="#7a9a2e" stroke-width="0.9" fill-opacity="0.7" stroke-opacity="0.9"/>
<polygon points="121.7,561.4 125.5,568 117.9,568" fill="#8dab40" stroke="#7a9a2e" stroke-width="0.9" fill-opacity="0.7" stroke-opacity="0.9"/>
<polygon points="125.4,563.3 129.2,569.9 121.6,569.9" fill="#8dab40" stroke="#7a9a2e" stroke-width="0.9" fill-opacity="0.7" stroke-opacity="0.9"/>
<polygon points="146.3,561.4 150.1,568 142.5,568" fill="#8dab40" stroke="#7a9a2e" stroke-width="0.9" fill-opacity="0.7" stroke-opacity="0.9"/>
<polygon points="136.8,564.2 140.6,570.8 133,570.8" fill="#8dab40" stroke="#7a9a2e" stroke-width="0.9" fill-opacity="0.7" stroke-opacity="0.9"/>
<polygon points="215.2,523.4 219,530 211.4,530" fill="#8dab40" stroke="#7a9a2e" stroke-width="0.9" fill-opacity="0.7" stroke-opacity="0.9"/>
<line x1="106.5" y1="561.2" x2="216.1" y2="520.4" stroke="#8aa32e" stroke-width="1.7" stroke-dasharray="1.6,1.7"/>
<line x1="109.3" y1="565.9" x2="219" y2="529.9" stroke="#7f9f2c" stroke-width="1.9"/>
<line x1="330.9" y1="448" x2="330.9" y2="646.6" stroke="#777" stroke-width="1.3"/>
<line x1="77.6" y1="448" x2="330.9" y2="448" stroke="#777" stroke-width="1.3"/>
<line x1="77.6" y1="448" x2="77.6" y2="646.6" stroke="#222" stroke-width="1.3"/>
<line x1="77.6" y1="646.6" x2="330.9" y2="646.6" stroke="#222" stroke-width="1.3"/>
<line x1="73.3" y1="448" x2="77.6" y2="448" stroke="#222" stroke-width="1.2"/>
<text x="71.1" y="453.2" font-size="15.5" text-anchor="end" font-weight="normal" fill="#000" stroke="#000" stroke-width="0.3">1.2</text>
<line x1="73.3" y1="492" x2="77.6" y2="492" stroke="#222" stroke-width="1.2"/>
<text x="71.1" y="497.2" font-size="15.5" text-anchor="end" font-weight="normal" fill="#000" stroke="#000" stroke-width="0.3">0.8</text>
<line x1="73.3" y1="536" x2="77.6" y2="536" stroke="#222" stroke-width="1.2"/>
<text x="71.1" y="541.2" font-size="15.5" text-anchor="end" font-weight="normal" fill="#000" stroke="#000" stroke-width="0.3">0.4</text>
<line x1="73.3" y1="580" x2="77.6" y2="580" stroke="#222" stroke-width="1.2"/>
<text x="71.1" y="585.2" font-size="15.5" text-anchor="end" font-weight="normal" fill="#000" stroke="#000" stroke-width="0.3">0.0</text>
<line x1="73.3" y1="624" x2="77.6" y2="624" stroke="#222" stroke-width="1.2"/>
<text x="71.1" y="629.2" font-size="15.5" text-anchor="end" font-weight="normal" fill="#000" stroke="#000" stroke-width="0.3">−0.4</text>
<line x1="105.5" y1="646.6" x2="105.5" y2="650.6" stroke="#222" stroke-width="1.2"/>
<text x="105.5" y="666.6" font-size="15.5" text-anchor="middle" font-weight="normal" fill="#000" stroke="#000" stroke-width="0.3">0</text>
<line x1="161.78" y1="646.6" x2="161.78" y2="650.6" stroke="#222" stroke-width="1.2"/>
<text x="161.78" y="666.6" font-size="15.5" text-anchor="middle" font-weight="normal" fill="#000" stroke="#000" stroke-width="0.3">4</text>
<line x1="218.06" y1="646.6" x2="218.06" y2="650.6" stroke="#222" stroke-width="1.2"/>
<text x="218.06" y="666.6" font-size="15.5" text-anchor="middle" font-weight="normal" fill="#000" stroke="#000" stroke-width="0.3">8</text>
<line x1="274.34" y1="646.6" x2="274.34" y2="650.6" stroke="#222" stroke-width="1.2"/>
<text x="274.34" y="666.6" font-size="15.5" text-anchor="middle" font-weight="normal" fill="#000" stroke="#000" stroke-width="0.3">12</text>
<line x1="330.62" y1="646.6" x2="330.62" y2="650.6" stroke="#222" stroke-width="1.2"/>
<text x="330.62" y="666.6" font-size="15.5" text-anchor="middle" font-weight="normal" fill="#000" stroke="#000" stroke-width="0.3">16</text>
<text x="204.8" y="689.1" font-size="17" text-anchor="middle" font-weight="normal" fill="#000" stroke="#000" stroke-width="0.3">N (mg g<tspan dy="-5" font-size="10">-1</tspan><tspan dy="5">)</tspan></text>
<line x1="79.7" y1="461.4" x2="95.6" y2="461.4" stroke="#8aa32e" stroke-width="1.6" stroke-dasharray="1.6,1.6"/>
<line x1="79.7" y1="476.5" x2="95.6" y2="476.5" stroke="#7f9f2c" stroke-width="1.6"/>
<text x="99.5" y="466" font-size="12.5" text-anchor="start" font-weight="normal" fill="#000" stroke="#000" stroke-width="0.3">All (<tspan font-style="italic">R</tspan><tspan dy="-5" font-size="9.5">2</tspan><tspan dy="5"> = 0.22, </tspan><tspan font-style="italic">P</tspan> = 0.003, <tspan font-style="italic">n</tspan> = 37)</text>
<text x="99.5" y="481.2" font-size="12.5" text-anchor="start" font-weight="normal" fill="#000" stroke="#000" stroke-width="0.3">Synergistic (<tspan font-style="italic">R</tspan><tspan dy="-5" font-size="9.5">2</tspan><tspan dy="5"> = 0.41, </tspan><tspan font-style="italic">P</tspan> &lt; 0.001, <tspan font-style="italic">n</tspan> = 28)</text>
<text x="38.6" y="547.6" font-size="17" text-anchor="middle" font-weight="normal" fill="#000" stroke="#000" stroke-width="0.3" transform="rotate(-90 38.6 547.6)">Mixing effect</text>
<text x="22.5" y="459.6" font-size="19" text-anchor="start" font-weight="bold" fill="#000">d</text>
<circle cx="413" cy="564.5" r="3.5" fill="none" stroke="#3560b0" stroke-width="0.8" stroke-opacity="0.85"/>
<circle cx="408.2" cy="571.2" r="3.5" fill="none" stroke="#3560b0" stroke-width="0.8" stroke-opacity="0.85"/>
<circle cx="413" cy="573.1" r="3.5" fill="none" stroke="#3560b0" stroke-width="0.8" stroke-opacity="0.85"/>
<circle cx="420.5" cy="572.1" r="3.5" fill="none" stroke="#3560b0" stroke-width="0.8" stroke-opacity="0.85"/>
<circle cx="428.1" cy="570.2" r="3.5" fill="none" stroke="#3560b0" stroke-width="0.8" stroke-opacity="0.85"/>
<circle cx="437.6" cy="571.2" r="3.5" fill="none" stroke="#3560b0" stroke-width="0.8" stroke-opacity="0.85"/>
<circle cx="434.8" cy="577.8" r="3.5" fill="none" stroke="#3560b0" stroke-width="0.8" stroke-opacity="0.85"/>
<circle cx="429.1" cy="581.6" r="3.5" fill="none" stroke="#3560b0" stroke-width="0.8" stroke-opacity="0.85"/>
<circle cx="462.3" cy="567.4" r="3.5" fill="none" stroke="#3560b0" stroke-width="0.8" stroke-opacity="0.85"/>
<circle cx="480.9" cy="577.4" r="3.5" fill="none" stroke="#3560b0" stroke-width="0.8" stroke-opacity="0.85"/>
<circle cx="493.6" cy="559.8" r="3.5" fill="none" stroke="#3560b0" stroke-width="0.8" stroke-opacity="0.85"/>
<circle cx="467.6" cy="584.5" r="3.5" fill="none" stroke="#3560b0" stroke-width="0.8" stroke-opacity="0.85"/>
<circle cx="450" cy="589.2" r="3.5" fill="none" stroke="#3560b0" stroke-width="0.8" stroke-opacity="0.85"/>
<circle cx="432" cy="591.1" r="3.5" fill="none" stroke="#3560b0" stroke-width="0.8" stroke-opacity="0.85"/>
<circle cx="420.2" cy="594" r="3.5" fill="none" stroke="#3560b0" stroke-width="0.8" stroke-opacity="0.85"/>
<circle cx="469" cy="592" r="3.5" fill="none" stroke="#3560b0" stroke-width="0.8" stroke-opacity="0.85"/>
<circle cx="511.1" cy="569.2" r="3.5" fill="none" stroke="#3560b0" stroke-width="0.8" stroke-opacity="0.85"/>
<circle cx="517.8" cy="566.4" r="3.5" fill="none" stroke="#3560b0" stroke-width="0.8" stroke-opacity="0.85"/>
<circle cx="517.4" cy="572" r="3.5" fill="none" stroke="#3560b0" stroke-width="0.8" stroke-opacity="0.85"/>
<circle cx="520.2" cy="573.4" r="3.5" fill="none" stroke="#3560b0" stroke-width="0.8" stroke-opacity="0.85"/>
<circle cx="416.8" cy="575" r="3.5" fill="none" stroke="#7f4c22" stroke-width="0.8" stroke-opacity="0.85"/>
<circle cx="475.2" cy="563.6" r="3.5" fill="none" stroke="#7f4c22" stroke-width="0.8" stroke-opacity="0.85"/>
<circle cx="487" cy="571.7" r="3.5" fill="none" stroke="#7f4c22" stroke-width="0.8" stroke-opacity="0.85"/>
<circle cx="467.6" cy="577.8" r="3.5" fill="none" stroke="#7f4c22" stroke-width="0.8" stroke-opacity="0.85"/>
<circle cx="415.8" cy="587.3" r="3.5" fill="none" stroke="#7f4c22" stroke-width="0.8" stroke-opacity="0.85"/>
<circle cx="505" cy="571.4" r="3.5" fill="none" stroke="#7f4c22" stroke-width="0.8" stroke-opacity="0.85"/>
<circle cx="443.3" cy="573.1" r="3.5" fill="none" stroke="#7a9a2e" stroke-width="0.8" stroke-opacity="0.85"/>
<circle cx="450" cy="573.1" r="3.5" fill="none" stroke="#7a9a2e" stroke-width="0.8" stroke-opacity="0.85"/>
<circle cx="458.1" cy="571.2" r="3.5" fill="none" stroke="#7a9a2e" stroke-width="0.8" stroke-opacity="0.85"/>
<circle cx="458.5" cy="584.5" r="3.5" fill="none" stroke="#7a9a2e" stroke-width="0.8" stroke-opacity="0.85"/>
<circle cx="426.2" cy="571.2" r="3.5" fill="none" stroke="#7a9a2e" stroke-width="0.8" stroke-opacity="0.85"/>
<rect x="403.9" y="591.3" width="6" height="6" fill="#8dab40" stroke="#7a9a2e" stroke-width="0.7" fill-opacity="0.7" stroke-opacity="0.8"/>
<rect x="422.9" y="595.1" width="6" height="6" fill="#8dab40" stroke="#7a9a2e" stroke-width="0.7" fill-opacity="0.7" stroke-opacity="0.8"/>
<rect x="411.9" y="591.7" width="6" height="6" fill="#93623a" stroke="#7f4c22" stroke-width="0.7" fill-opacity="0.7" stroke-opacity="0.8"/>
<rect x="410.9" y="596.4" width="6" height="6" fill="#93623a" stroke="#7f4c22" stroke-width="0.7" fill-opacity="0.7" stroke-opacity="0.8"/>
<rect x="416" y="598.3" width="6" height="6" fill="#93623a" stroke="#7f4c22" stroke-width="0.7" fill-opacity="0.7" stroke-opacity="0.8"/>
<rect x="460.8" y="589.8" width="6" height="6" fill="#93623a" stroke="#7f4c22" stroke-width="0.7" fill-opacity="0.7" stroke-opacity="0.8"/>
<rect x="428" y="595.8" width="6" height="6" fill="#4a74c4" stroke="#3560b0" stroke-width="0.7" fill-opacity="0.7" stroke-opacity="0.8"/>
<rect x="433.7" y="594.5" width="6" height="6" fill="#4a74c4" stroke="#3560b0" stroke-width="0.7" fill-opacity="0.7" stroke-opacity="0.8"/>
<rect x="448.3" y="600.8" width="6" height="6" fill="#4a74c4" stroke="#3560b0" stroke-width="0.7" fill-opacity="0.7" stroke-opacity="0.8"/>
<rect x="418.5" y="605" width="6" height="6" fill="#4a74c4" stroke="#3560b0" stroke-width="0.7" fill-opacity="0.7" stroke-opacity="0.8"/>
<rect x="424.2" y="606.5" width="6" height="6" fill="#4a74c4" stroke="#3560b0" stroke-width="0.7" fill-opacity="0.7" stroke-opacity="0.8"/>
<rect x="430.5" y="610.3" width="6" height="6" fill="#4a74c4" stroke="#3560b0" stroke-width="0.7" fill-opacity="0.7" stroke-opacity="0.8"/>
<rect x="436.9" y="607.2" width="6" height="6" fill="#4a74c4" stroke="#3560b0" stroke-width="0.7" fill-opacity="0.7" stroke-opacity="0.8"/>
<rect x="414.7" y="619.8" width="6" height="6" fill="#4a74c4" stroke="#3560b0" stroke-width="0.7" fill-opacity="0.7" stroke-opacity="0.8"/>
<rect x="428" y="623" width="6" height="6" fill="#4a74c4" stroke="#3560b0" stroke-width="0.7" fill-opacity="0.7" stroke-opacity="0.8"/>
<rect x="452.1" y="618.2" width="6" height="6" fill="#4a74c4" stroke="#3560b0" stroke-width="0.7" fill-opacity="0.7" stroke-opacity="0.8"/>
<rect x="445.1" y="632.5" width="6" height="6" fill="#4a74c4" stroke="#3560b0" stroke-width="0.7" fill-opacity="0.7" stroke-opacity="0.8"/>
<rect x="464" y="630.6" width="6" height="6" fill="#4a74c4" stroke="#3560b0" stroke-width="0.7" fill-opacity="0.7" stroke-opacity="0.8"/>
<polygon points="411.1,513.1 414.9,519.7 407.3,519.7" fill="#4a74c4" stroke="#3560b0" stroke-width="0.9" fill-opacity="0.7" stroke-opacity="0.9"/>
<polygon points="456.2,514.4 460,521 452.4,521" fill="#4a74c4" stroke="#3560b0" stroke-width="0.9" fill-opacity="0.7" stroke-opacity="0.9"/>
<polygon points="497.6,515.1 501.4,521.7 493.8,521.7" fill="#4a74c4" stroke="#3560b0" stroke-width="0.9" fill-opacity="0.7" stroke-opacity="0.9"/>
<polygon points="439.9,528.3 443.7,534.9 436.1,534.9" fill="#4a74c4" stroke="#3560b0" stroke-width="0.9" fill-opacity="0.7" stroke-opacity="0.9"/>
<polygon points="449,534.4 452.8,541 445.2,541" fill="#4a74c4" stroke="#3560b0" stroke-width="0.9" fill-opacity="0.7" stroke-opacity="0.9"/>
<polygon points="427.2,539.1 431,545.7 423.4,545.7" fill="#4a74c4" stroke="#3560b0" stroke-width="0.9" fill-opacity="0.7" stroke-opacity="0.9"/>
<polygon points="409.5,544.8 413.3,551.4 405.7,551.4" fill="#4a74c4" stroke="#3560b0" stroke-width="0.9" fill-opacity="0.7" stroke-opacity="0.9"/>
<polygon points="413.9,546.7 417.7,553.3 410.1,553.3" fill="#4a74c4" stroke="#3560b0" stroke-width="0.9" fill-opacity="0.7" stroke-opacity="0.9"/>
<polygon points="428.5,546.7 432.3,553.3 424.7,553.3" fill="#4a74c4" stroke="#3560b0" stroke-width="0.9" fill-opacity="0.7" stroke-opacity="0.9"/>
<polygon points="463.3,544.8 467.1,551.4 459.5,551.4" fill="#4a74c4" stroke="#3560b0" stroke-width="0.9" fill-opacity="0.7" stroke-opacity="0.9"/>
<polygon points="469.3,543.5 473.1,550.1 465.5,550.1" fill="#4a74c4" stroke="#3560b0" stroke-width="0.9" fill-opacity="0.7" stroke-opacity="0.9"/>
<polygon points="447.5,551.4 451.3,558 443.7,558" fill="#4a74c4" stroke="#3560b0" stroke-width="0.9" fill-opacity="0.7" stroke-opacity="0.9"/>
<polygon points="495,540.6 498.8,547.2 491.2,547.2" fill="#4a74c4" stroke="#3560b0" stroke-width="0.9" fill-opacity="0.7" stroke-opacity="0.9"/>
<polygon points="601.7,510.2 605.5,516.8 597.9,516.8" fill="#4a74c4" stroke="#3560b0" stroke-width="0.9" fill-opacity="0.7" stroke-opacity="0.9"/>
<polygon points="530.1,523.8 533.9,530.4 526.3,530.4" fill="#4a74c4" stroke="#3560b0" stroke-width="0.9" fill-opacity="0.7" stroke-opacity="0.9"/>
<polygon points="570.9,528 574.7,534.6 567.1,534.6" fill="#4a74c4" stroke="#3560b0" stroke-width="0.9" fill-opacity="0.7" stroke-opacity="0.9"/>
<polygon points="506.4,551.4 510.2,558 502.6,558" fill="#4a74c4" stroke="#3560b0" stroke-width="0.9" fill-opacity="0.7" stroke-opacity="0.9"/>
<polygon points="433.5,516.3 437.3,522.9 429.7,522.9" fill="#93623a" stroke="#7f4c22" stroke-width="0.9" fill-opacity="0.7" stroke-opacity="0.9"/>
<polygon points="418.7,523 422.5,529.6 414.9,529.6" fill="#93623a" stroke="#7f4c22" stroke-width="0.9" fill-opacity="0.7" stroke-opacity="0.9"/>
<polygon points="449.4,525.2 453.2,531.8 445.6,531.8" fill="#93623a" stroke="#7f4c22" stroke-width="0.9" fill-opacity="0.7" stroke-opacity="0.9"/>
<polygon points="420.2,531.5 424,538.1 416.4,538.1" fill="#93623a" stroke="#7f4c22" stroke-width="0.9" fill-opacity="0.7" stroke-opacity="0.9"/>
<polygon points="413.9,533.4 417.7,540 410.1,540" fill="#93623a" stroke="#7f4c22" stroke-width="0.9" fill-opacity="0.7" stroke-opacity="0.9"/>
<polygon points="450.9,529.6 454.7,536.2 447.1,536.2" fill="#93623a" stroke="#7f4c22" stroke-width="0.9" fill-opacity="0.7" stroke-opacity="0.9"/>
<polygon points="486.6,519.2 490.4,525.8 482.8,525.8" fill="#93623a" stroke="#7f4c22" stroke-width="0.9" fill-opacity="0.7" stroke-opacity="0.9"/>
<polygon points="501.5,524.6 505.3,531.2 497.7,531.2" fill="#93623a" stroke="#7f4c22" stroke-width="0.9" fill-opacity="0.7" stroke-opacity="0.9"/>
<polygon points="449.4,543.5 453.2,550.1 445.6,550.1" fill="#93623a" stroke="#7f4c22" stroke-width="0.9" fill-opacity="0.7" stroke-opacity="0.9"/>
<polygon points="465.7,540.4 469.5,547 461.9,547" fill="#93623a" stroke="#7f4c22" stroke-width="0.9" fill-opacity="0.7" stroke-opacity="0.9"/>
<polygon points="434.8,547.6 438.6,554.2 431,554.2" fill="#93623a" stroke="#7f4c22" stroke-width="0.9" fill-opacity="0.7" stroke-opacity="0.9"/>
<polygon points="440.5,549.5 444.3,556.1 436.7,556.1" fill="#93623a" stroke="#7f4c22" stroke-width="0.9" fill-opacity="0.7" stroke-opacity="0.9"/>
<polygon points="444.3,547.6 448.1,554.2 440.5,554.2" fill="#93623a" stroke="#7f4c22" stroke-width="0.9" fill-opacity="0.7" stroke-opacity="0.9"/>
<polygon points="422.1,555.2 425.9,561.8 418.3,561.8" fill="#93623a" stroke="#7f4c22" stroke-width="0.9" fill-opacity="0.7" stroke-opacity="0.9"/>
<polygon points="420.5,558.1 424.3,564.7 416.7,564.7" fill="#93623a" stroke="#7f4c22" stroke-width="0.9" fill-opacity="0.7" stroke-opacity="0.9"/>
<polygon points="426.2,560 430,566.6 422.4,566.6" fill="#93623a" stroke="#7f4c22" stroke-width="0.9" fill-opacity="0.7" stroke-opacity="0.9"/>
<polygon points="408.2,561.9 412,568.5 404.4,568.5" fill="#93623a" stroke="#7f4c22" stroke-width="0.9" fill-opacity="0.7" stroke-opacity="0.9"/>
<polygon points="439.1,558.1 442.9,564.7 435.3,564.7" fill="#93623a" stroke="#7f4c22" stroke-width="0.9" fill-opacity="0.7" stroke-opacity="0.9"/>
<polygon points="550,503 553.8,509.6 546.2,509.6" fill="#93623a" stroke="#7f4c22" stroke-width="0.9" fill-opacity="0.7" stroke-opacity="0.9"/>
<polygon points="510.6,533 514.4,539.6 506.8,539.6" fill="#93623a" stroke="#7f4c22" stroke-width="0.9" fill-opacity="0.7" stroke-opacity="0.9"/>
<polygon points="517.4,550.8 521.2,557.4 513.6,557.4" fill="#93623a" stroke="#7f4c22" stroke-width="0.9" fill-opacity="0.7" stroke-opacity="0.9"/>
<polygon points="607.4,553.3 611.2,559.9 603.6,559.9" fill="#93623a" stroke="#7f4c22" stroke-width="0.9" fill-opacity="0.7" stroke-opacity="0.9"/>
<polygon points="486,500.6 489.8,507.2 482.2,507.2" fill="#8dab40" stroke="#7a9a2e" stroke-width="0.9" fill-opacity="0.7" stroke-opacity="0.9"/>
<polygon points="465.7,513.9 469.5,520.5 461.9,520.5" fill="#8dab40" stroke="#7a9a2e" stroke-width="0.9" fill-opacity="0.7" stroke-opacity="0.9"/>
<polygon points="429.7,522.6 433.5,529.2 425.9,529.2" fill="#8dab40" stroke="#7a9a2e" stroke-width="0.9" fill-opacity="0.7" stroke-opacity="0.9"/>
<polygon points="455.1,523 458.9,529.6 451.3,529.6" fill="#8dab40" stroke="#7a9a2e" stroke-width="0.9" fill-opacity="0.7" stroke-opacity="0.9"/>
<polygon points="412.6,526.8 416.4,533.4 408.8,533.4" fill="#8dab40" stroke="#7a9a2e" stroke-width="0.9" fill-opacity="0.7" stroke-opacity="0.9"/>
<polygon points="462.7,530.2 466.5,536.8 458.9,536.8" fill="#8dab40" stroke="#7a9a2e" stroke-width="0.9" fill-opacity="0.7" stroke-opacity="0.9"/>
<polygon points="432,531.5 435.8,538.1 428.2,538.1" fill="#8dab40" stroke="#7a9a2e" stroke-width="0.9" fill-opacity="0.7" stroke-opacity="0.9"/>
<polygon points="441.4,535.3 445.2,541.9 437.6,541.9" fill="#8dab40" stroke="#7a9a2e" stroke-width="0.9" fill-opacity="0.7" stroke-opacity="0.9"/>
<polygon points="436.7,541 440.5,547.6 432.9,547.6" fill="#8dab40" stroke="#7a9a2e" stroke-width="0.9" fill-opacity="0.7" stroke-opacity="0.9"/>
<polygon points="422.4,540.4 426.2,547 418.6,547" fill="#8dab40" stroke="#7a9a2e" stroke-width="0.9" fill-opacity="0.7" stroke-opacity="0.9"/>
<polygon points="457.6,551.4 461.4,558 453.8,558" fill="#8dab40" stroke="#7a9a2e" stroke-width="0.9" fill-opacity="0.7" stroke-opacity="0.9"/>
<polygon points="468,553.3 471.8,559.9 464.2,559.9" fill="#8dab40" stroke="#7a9a2e" stroke-width="0.9" fill-opacity="0.7" stroke-opacity="0.9"/>
<polygon points="442.4,558.1 446.2,564.7 438.6,564.7" fill="#8dab40" stroke="#7a9a2e" stroke-width="0.9" fill-opacity="0.7" stroke-opacity="0.9"/>
<polygon points="499.5,554.4 503.3,561 495.7,561" fill="#8dab40" stroke="#7a9a2e" stroke-width="0.9" fill-opacity="0.7" stroke-opacity="0.9"/>
<polygon points="473.7,563.8 477.5,570.4 469.9,570.4" fill="#8dab40" stroke="#7a9a2e" stroke-width="0.9" fill-opacity="0.7" stroke-opacity="0.9"/>
<polygon points="492.7,564.7 496.5,571.3 488.9,571.3" fill="#8dab40" stroke="#7a9a2e" stroke-width="0.9" fill-opacity="0.7" stroke-opacity="0.9"/>
<polygon points="516.3,513.4 520.1,520 512.5,520" fill="#8dab40" stroke="#7a9a2e" stroke-width="0.9" fill-opacity="0.7" stroke-opacity="0.9"/>
<line x1="408.2" y1="583.1" x2="599.8" y2="536.6" stroke="#3d6cc0" stroke-width="1.7" stroke-dasharray="1.6,1.7"/>
<line x1="375.6" y1="448" x2="375.6" y2="646.6" stroke="#222" stroke-width="1.3"/>
<line x1="375.6" y1="448" x2="632.9" y2="448" stroke="#777" stroke-width="1.3"/>
<line x1="628.6" y1="448" x2="628.6" y2="646.6" stroke="#222" stroke-width="1.3"/>
<line x1="375.6" y1="646.6" x2="628.6" y2="646.6" stroke="#222" stroke-width="1.3"/>
<line x1="628.6" y1="448" x2="632.9" y2="448" stroke="#222" stroke-width="1.2"/>
<text x="635.1" y="453.2" font-size="15.5" text-anchor="start" font-weight="normal" fill="#000" stroke="#000" stroke-width="0.3">1.2</text>
<line x1="628.6" y1="492" x2="632.9" y2="492" stroke="#222" stroke-width="1.2"/>
<text x="635.1" y="497.2" font-size="15.5" text-anchor="start" font-weight="normal" fill="#000" stroke="#000" stroke-width="0.3">0.8</text>
<line x1="628.6" y1="536" x2="632.9" y2="536" stroke="#222" stroke-width="1.2"/>
<text x="635.1" y="541.2" font-size="15.5" text-anchor="start" font-weight="normal" fill="#000" stroke="#000" stroke-width="0.3">0.4</text>
<line x1="628.6" y1="580" x2="632.9" y2="580" stroke="#222" stroke-width="1.2"/>
<text x="635.1" y="585.2" font-size="15.5" text-anchor="start" font-weight="normal" fill="#000" stroke="#000" stroke-width="0.3">0.0</text>
<line x1="628.6" y1="624" x2="632.9" y2="624" stroke="#222" stroke-width="1.2"/>
<text x="635.1" y="629.2" font-size="15.5" text-anchor="start" font-weight="normal" fill="#000" stroke="#000" stroke-width="0.3">−0.4</text>
<line x1="407.2" y1="646.6" x2="407.2" y2="650.6" stroke="#222" stroke-width="1.2"/>
<text x="407.2" y="666.6" font-size="15.5" text-anchor="middle" font-weight="normal" fill="#000" stroke="#000" stroke-width="0.3">0</text>
<line x1="470.46" y1="646.6" x2="470.46" y2="650.6" stroke="#222" stroke-width="1.2"/>
<text x="470.46" y="666.6" font-size="15.5" text-anchor="middle" font-weight="normal" fill="#000" stroke="#000" stroke-width="0.3">20</text>
<line x1="533.72" y1="646.6" x2="533.72" y2="650.6" stroke="#222" stroke-width="1.2"/>
<text x="533.72" y="666.6" font-size="15.5" text-anchor="middle" font-weight="normal" fill="#000" stroke="#000" stroke-width="0.3">40</text>
<line x1="596.98" y1="646.6" x2="596.98" y2="650.6" stroke="#222" stroke-width="1.2"/>
<text x="596.98" y="666.6" font-size="15.5" text-anchor="middle" font-weight="normal" fill="#000" stroke="#000" stroke-width="0.3">60</text>
<text x="502" y="689.1" font-size="17" text-anchor="middle" font-weight="normal" fill="#000" stroke="#000" stroke-width="0.3">CTs (mg g<tspan dy="-5" font-size="10">-1</tspan><tspan dy="5">)</tspan></text>
<line x1="379.9" y1="461.8" x2="395.1" y2="461.8" stroke="#3d6cc0" stroke-width="1.6" stroke-dasharray="1.6,1.6"/>
<text x="398.9" y="466" font-size="12.5" text-anchor="start" font-weight="normal" fill="#000" stroke="#000" stroke-width="0.3">All (<tspan font-style="italic">R</tspan><tspan dy="-5" font-size="9.5">2</tspan><tspan dy="5"> = 0.11, </tspan><tspan font-style="italic">P</tspan> = 0.015, <tspan font-style="italic">n</tspan> = 54)</text>
<text x="672" y="547.5" font-size="17" text-anchor="middle" font-weight="normal" fill="#000" stroke="#000" stroke-width="0.3" transform="rotate(90 672 547.5)">Mixing effect</text>
<text x="355.5" y="459.7" font-size="19" text-anchor="start" font-weight="bold" fill="#000">e</text>
<circle cx="116.1" cy="817.8" r="3.5" fill="none" stroke="#3560b0" stroke-width="0.8" stroke-opacity="0.85"/>
<circle cx="116.7" cy="822.6" r="3.5" fill="none" stroke="#3560b0" stroke-width="0.8" stroke-opacity="0.85"/>
<circle cx="134.2" cy="819.3" r="3.5" fill="none" stroke="#3560b0" stroke-width="0.8" stroke-opacity="0.85"/>
<circle cx="149" cy="817.8" r="3.5" fill="none" stroke="#3560b0" stroke-width="0.8" stroke-opacity="0.85"/>
<circle cx="149.7" cy="821.6" r="3.5" fill="none" stroke="#3560b0" stroke-width="0.8" stroke-opacity="0.85"/>
<circle cx="164.5" cy="809.3" r="3.5" fill="none" stroke="#3560b0" stroke-width="0.8" stroke-opacity="0.85"/>
<circle cx="174" cy="814.4" r="3.5" fill="none" stroke="#3560b0" stroke-width="0.8" stroke-opacity="0.85"/>
<circle cx="166.4" cy="832" r="3.5" fill="none" stroke="#3560b0" stroke-width="0.8" stroke-opacity="0.85"/>
<circle cx="173.1" cy="834" r="3.5" fill="none" stroke="#3560b0" stroke-width="0.8" stroke-opacity="0.85"/>
<circle cx="193" cy="823.1" r="3.5" fill="none" stroke="#3560b0" stroke-width="0.8" stroke-opacity="0.85"/>
<circle cx="193" cy="827.3" r="3.5" fill="none" stroke="#3560b0" stroke-width="0.8" stroke-opacity="0.85"/>
<circle cx="201.5" cy="817.8" r="3.5" fill="none" stroke="#3560b0" stroke-width="0.8" stroke-opacity="0.85"/>
<circle cx="207.2" cy="816.9" r="3.5" fill="none" stroke="#3560b0" stroke-width="0.8" stroke-opacity="0.85"/>
<circle cx="213.5" cy="826.2" r="3.5" fill="none" stroke="#3560b0" stroke-width="0.8" stroke-opacity="0.85"/>
<circle cx="191.5" cy="840" r="3.5" fill="none" stroke="#3560b0" stroke-width="0.8" stroke-opacity="0.85"/>
<circle cx="219" cy="841.5" r="3.5" fill="none" stroke="#3560b0" stroke-width="0.8" stroke-opacity="0.85"/>
<circle cx="225.5" cy="838.8" r="3.5" fill="none" stroke="#3560b0" stroke-width="0.8" stroke-opacity="0.85"/>
<circle cx="237.8" cy="839.7" r="3.5" fill="none" stroke="#3560b0" stroke-width="0.8" stroke-opacity="0.85"/>
<circle cx="124.7" cy="823.5" r="3.5" fill="none" stroke="#7f4c22" stroke-width="0.8" stroke-opacity="0.85"/>
<circle cx="138" cy="827.3" r="3.5" fill="none" stroke="#7f4c22" stroke-width="0.8" stroke-opacity="0.85"/>
<circle cx="158.8" cy="819.7" r="3.5" fill="none" stroke="#7f4c22" stroke-width="0.8" stroke-opacity="0.85"/>
<circle cx="167.4" cy="820.7" r="3.5" fill="none" stroke="#7f4c22" stroke-width="0.8" stroke-opacity="0.85"/>
<circle cx="170.2" cy="821.6" r="3.5" fill="none" stroke="#7f4c22" stroke-width="0.8" stroke-opacity="0.85"/>
<circle cx="168.3" cy="828.3" r="3.5" fill="none" stroke="#7f4c22" stroke-width="0.8" stroke-opacity="0.85"/>
<circle cx="202" cy="821.6" r="3.5" fill="none" stroke="#7f4c22" stroke-width="0.8" stroke-opacity="0.85"/>
<circle cx="213.5" cy="813.1" r="3.5" fill="none" stroke="#7f4c22" stroke-width="0.8" stroke-opacity="0.85"/>
<circle cx="173" cy="836" r="3.5" fill="none" stroke="#7f4c22" stroke-width="0.8" stroke-opacity="0.85"/>
<circle cx="130.4" cy="823.5" r="3.5" fill="none" stroke="#7a9a2e" stroke-width="0.8" stroke-opacity="0.85"/>
<circle cx="158.8" cy="822.6" r="3.5" fill="none" stroke="#7a9a2e" stroke-width="0.8" stroke-opacity="0.85"/>
<circle cx="141.4" cy="834" r="3.5" fill="none" stroke="#7a9a2e" stroke-width="0.8" stroke-opacity="0.85"/>
<rect x="115" y="848.3" width="6" height="6" fill="#93623a" stroke="#7f4c22" stroke-width="0.7" fill-opacity="0.7" stroke-opacity="0.8"/>
<rect x="142.9" y="842.1" width="6" height="6" fill="#93623a" stroke="#7f4c22" stroke-width="0.7" fill-opacity="0.7" stroke-opacity="0.8"/>
<rect x="153.6" y="846.4" width="6" height="6" fill="#93623a" stroke="#7f4c22" stroke-width="0.7" fill-opacity="0.7" stroke-opacity="0.8"/>
<rect x="179.6" y="839.8" width="6" height="6" fill="#93623a" stroke="#7f4c22" stroke-width="0.7" fill-opacity="0.7" stroke-opacity="0.8"/>
<rect x="117.9" y="845.1" width="6" height="6" fill="#8dab40" stroke="#7a9a2e" stroke-width="0.7" fill-opacity="0.7" stroke-opacity="0.8"/>
<rect x="121.7" y="841.3" width="6" height="6" fill="#8dab40" stroke="#7a9a2e" stroke-width="0.7" fill-opacity="0.7" stroke-opacity="0.8"/>
<rect x="121.3" y="846.4" width="6" height="6" fill="#4a74c4" stroke="#3560b0" stroke-width="0.7" fill-opacity="0.7" stroke-opacity="0.8"/>
<rect x="122.6" y="854.6" width="6" height="6" fill="#4a74c4" stroke="#3560b0" stroke-width="0.7" fill-opacity="0.7" stroke-opacity="0.8"/>
<rect x="117.5" y="860.3" width="6" height="6" fill="#4a74c4" stroke="#3560b0" stroke-width="0.7" fill-opacity="0.7" stroke-opacity="0.8"/>
<rect x="135" y="856.5" width="6" height="6" fill="#4a74c4" stroke="#3560b0" stroke-width="0.7" fill-opacity="0.7" stroke-opacity="0.8"/>
<rect x="161.5" y="850.2" width="6" height="6" fill="#4a74c4" stroke="#3560b0" stroke-width="0.7" fill-opacity="0.7" stroke-opacity="0.8"/>
<rect x="156.8" y="856.9" width="6" height="6" fill="#4a74c4" stroke="#3560b0" stroke-width="0.7" fill-opacity="0.7" stroke-opacity="0.8"/>
<rect x="170.6" y="844.5" width="6" height="6" fill="#4a74c4" stroke="#3560b0" stroke-width="0.7" fill-opacity="0.7" stroke-opacity="0.8"/>
<rect x="153" y="869.8" width="6" height="6" fill="#4a74c4" stroke="#3560b0" stroke-width="0.7" fill-opacity="0.7" stroke-opacity="0.8"/>
<rect x="142.2" y="880.6" width="6" height="6" fill="#4a74c4" stroke="#3560b0" stroke-width="0.7" fill-opacity="0.7" stroke-opacity="0.8"/>
<rect x="176.7" y="872.4" width="6" height="6" fill="#4a74c4" stroke="#3560b0" stroke-width="0.7" fill-opacity="0.7" stroke-opacity="0.8"/>
<rect x="195.3" y="867.9" width="6" height="6" fill="#4a74c4" stroke="#3560b0" stroke-width="0.7" fill-opacity="0.7" stroke-opacity="0.8"/>
<rect x="188.5" y="882.5" width="6" height="6" fill="#4a74c4" stroke="#3560b0" stroke-width="0.7" fill-opacity="0.7" stroke-opacity="0.8"/>
<polygon points="127.5,762 131.3,768.6 123.7,768.6" fill="#4a74c4" stroke="#3560b0" stroke-width="0.9" fill-opacity="0.7" stroke-opacity="0.9"/>
<polygon points="148.4,763.9 152.2,770.5 144.6,770.5" fill="#4a74c4" stroke="#3560b0" stroke-width="0.9" fill-opacity="0.7" stroke-opacity="0.9"/>
<polygon points="166,759.2 169.8,765.8 162.2,765.8" fill="#4a74c4" stroke="#3560b0" stroke-width="0.9" fill-opacity="0.7" stroke-opacity="0.9"/>
<polygon points="225.3,763.9 229.1,770.5 221.5,770.5" fill="#4a74c4" stroke="#3560b0" stroke-width="0.9" fill-opacity="0.7" stroke-opacity="0.9"/>
<polygon points="125.6,777.8 129.4,784.4 121.8,784.4" fill="#4a74c4" stroke="#3560b0" stroke-width="0.9" fill-opacity="0.7" stroke-opacity="0.9"/>
<polygon points="129.4,784.8 133.2,791.4 125.6,791.4" fill="#4a74c4" stroke="#3560b0" stroke-width="0.9" fill-opacity="0.7" stroke-opacity="0.9"/>
<polygon points="113.3,789.9 117.1,796.5 109.5,796.5" fill="#4a74c4" stroke="#3560b0" stroke-width="0.9" fill-opacity="0.7" stroke-opacity="0.9"/>
<polygon points="120.5,794.3 124.3,800.9 116.7,800.9" fill="#4a74c4" stroke="#3560b0" stroke-width="0.9" fill-opacity="0.7" stroke-opacity="0.9"/>
<polygon points="128.1,793 131.9,799.6 124.3,799.6" fill="#4a74c4" stroke="#3560b0" stroke-width="0.9" fill-opacity="0.7" stroke-opacity="0.9"/>
<polygon points="131.9,799 135.7,805.6 128.1,805.6" fill="#4a74c4" stroke="#3560b0" stroke-width="0.9" fill-opacity="0.7" stroke-opacity="0.9"/>
<polygon points="169.8,789.2 173.6,795.8 166,795.8" fill="#4a74c4" stroke="#3560b0" stroke-width="0.9" fill-opacity="0.7" stroke-opacity="0.9"/>
<polygon points="170.6,794.3 174.4,800.9 166.8,800.9" fill="#4a74c4" stroke="#3560b0" stroke-width="0.9" fill-opacity="0.7" stroke-opacity="0.9"/>
<polygon points="181.6,789.5 185.4,796.1 177.8,796.1" fill="#4a74c4" stroke="#3560b0" stroke-width="0.9" fill-opacity="0.7" stroke-opacity="0.9"/>
<polygon points="194.5,796.8 198.3,803.4 190.7,803.4" fill="#4a74c4" stroke="#3560b0" stroke-width="0.9" fill-opacity="0.7" stroke-opacity="0.9"/>
<polygon points="209.7,795.6 213.5,802.2 205.9,802.2" fill="#4a74c4" stroke="#3560b0" stroke-width="0.9" fill-opacity="0.7" stroke-opacity="0.9"/>
<polygon points="259.7,778.3 263.5,784.9 255.9,784.9" fill="#4a74c4" stroke="#3560b0" stroke-width="0.9" fill-opacity="0.7" stroke-opacity="0.9"/>
<polygon points="298.1,773.6 301.9,780.2 294.3,780.2" fill="#4a74c4" stroke="#3560b0" stroke-width="0.9" fill-opacity="0.7" stroke-opacity="0.9"/>
<polygon points="210.1,751.6 213.9,758.2 206.3,758.2" fill="#93623a" stroke="#7f4c22" stroke-width="0.9" fill-opacity="0.7" stroke-opacity="0.9"/>
<polygon points="124.7,766.4 128.5,773 120.9,773" fill="#93623a" stroke="#7f4c22" stroke-width="0.9" fill-opacity="0.7" stroke-opacity="0.9"/>
<polygon points="180.7,769.6 184.5,776.2 176.9,776.2" fill="#93623a" stroke="#7f4c22" stroke-width="0.9" fill-opacity="0.7" stroke-opacity="0.9"/>
<polygon points="197.7,765.8 201.5,772.4 193.9,772.4" fill="#93623a" stroke="#7f4c22" stroke-width="0.9" fill-opacity="0.7" stroke-opacity="0.9"/>
<polygon points="116.7,774.4 120.5,781 112.9,781" fill="#93623a" stroke="#7f4c22" stroke-width="0.9" fill-opacity="0.7" stroke-opacity="0.9"/>
<polygon points="132.6,772.5 136.4,779.1 128.8,779.1" fill="#93623a" stroke="#7f4c22" stroke-width="0.9" fill-opacity="0.7" stroke-opacity="0.9"/>
<polygon points="133.2,776.3 137,782.9 129.4,782.9" fill="#93623a" stroke="#7f4c22" stroke-width="0.9" fill-opacity="0.7" stroke-opacity="0.9"/>
<polygon points="186.9,782.9 190.7,789.5 183.1,789.5" fill="#93623a" stroke="#7f4c22" stroke-width="0.9" fill-opacity="0.7" stroke-opacity="0.9"/>
<polygon points="204,781.9 207.8,788.5 200.2,788.5" fill="#93623a" stroke="#7f4c22" stroke-width="0.9" fill-opacity="0.7" stroke-opacity="0.9"/>
<polygon points="211,781.6 214.8,788.2 207.2,788.2" fill="#93623a" stroke="#7f4c22" stroke-width="0.9" fill-opacity="0.7" stroke-opacity="0.9"/>
<polygon points="195.8,790.5 199.6,797.1 192,797.1" fill="#93623a" stroke="#7f4c22" stroke-width="0.9" fill-opacity="0.7" stroke-opacity="0.9"/>
<polygon points="122.4,796.8 126.2,803.4 118.6,803.4" fill="#93623a" stroke="#7f4c22" stroke-width="0.9" fill-opacity="0.7" stroke-opacity="0.9"/>
<polygon points="136.4,802.4 140.2,809 132.6,809" fill="#93623a" stroke="#7f4c22" stroke-width="0.9" fill-opacity="0.7" stroke-opacity="0.9"/>
<polygon points="149.7,800.9 153.5,807.5 145.9,807.5" fill="#93623a" stroke="#7f4c22" stroke-width="0.9" fill-opacity="0.7" stroke-opacity="0.9"/>
<polygon points="157.9,797.5 161.7,804.1 154.1,804.1" fill="#93623a" stroke="#7f4c22" stroke-width="0.9" fill-opacity="0.7" stroke-opacity="0.9"/>
<polygon points="154.1,803.8 157.9,810.4 150.3,810.4" fill="#93623a" stroke="#7f4c22" stroke-width="0.9" fill-opacity="0.7" stroke-opacity="0.9"/>
<polygon points="178.8,798.7 182.6,805.3 175,805.3" fill="#93623a" stroke="#7f4c22" stroke-width="0.9" fill-opacity="0.7" stroke-opacity="0.9"/>
<polygon points="189.2,800.9 193,807.5 185.4,807.5" fill="#93623a" stroke="#7f4c22" stroke-width="0.9" fill-opacity="0.7" stroke-opacity="0.9"/>
<polygon points="192.6,801.9 196.4,808.5 188.8,808.5" fill="#93623a" stroke="#7f4c22" stroke-width="0.9" fill-opacity="0.7" stroke-opacity="0.9"/>
<polygon points="206.7,800.9 210.5,807.5 202.9,807.5" fill="#93623a" stroke="#7f4c22" stroke-width="0.9" fill-opacity="0.7" stroke-opacity="0.9"/>
<polygon points="115.6,808.5 119.4,815.1 111.8,815.1" fill="#93623a" stroke="#7f4c22" stroke-width="0.9" fill-opacity="0.7" stroke-opacity="0.9"/>
<polygon points="167.4,809.5 171.2,816.1 163.6,816.1" fill="#93623a" stroke="#7f4c22" stroke-width="0.9" fill-opacity="0.7" stroke-opacity="0.9"/>
<polygon points="165.5,812.3 169.3,818.9 161.7,818.9" fill="#93623a" stroke="#7f4c22" stroke-width="0.9" fill-opacity="0.7" stroke-opacity="0.9"/>
<polygon points="171.2,811.4 175,818 167.4,818" fill="#93623a" stroke="#7f4c22" stroke-width="0.9" fill-opacity="0.7" stroke-opacity="0.9"/>
<polygon points="179.7,810.4 183.5,817 175.9,817" fill="#93623a" stroke="#7f4c22" stroke-width="0.9" fill-opacity="0.7" stroke-opacity="0.9"/>
<polygon points="200.6,809.5 204.4,816.1 196.8,816.1" fill="#93623a" stroke="#7f4c22" stroke-width="0.9" fill-opacity="0.7" stroke-opacity="0.9"/>
<polygon points="220.2,807.7 224,814.3 216.4,814.3" fill="#93623a" stroke="#7f4c22" stroke-width="0.9" fill-opacity="0.7" stroke-opacity="0.9"/>
<polygon points="248.6,779.3 252.4,785.9 244.8,785.9" fill="#93623a" stroke="#7f4c22" stroke-width="0.9" fill-opacity="0.7" stroke-opacity="0.9"/>
<polygon points="200.6,750.6 204.4,757.2 196.8,757.2" fill="#8dab40" stroke="#7a9a2e" stroke-width="0.9" fill-opacity="0.7" stroke-opacity="0.9"/>
<polygon points="175,762.6 178.8,769.2 171.2,769.2" fill="#8dab40" stroke="#7a9a2e" stroke-width="0.9" fill-opacity="0.7" stroke-opacity="0.9"/>
<polygon points="219.6,763 223.4,769.6 215.8,769.6" fill="#8dab40" stroke="#7a9a2e" stroke-width="0.9" fill-opacity="0.7" stroke-opacity="0.9"/>
<polygon points="212,768.3 215.8,774.9 208.2,774.9" fill="#8dab40" stroke="#7a9a2e" stroke-width="0.9" fill-opacity="0.7" stroke-opacity="0.9"/>
<polygon points="157.9,772.1 161.7,778.7 154.1,778.7" fill="#8dab40" stroke="#7a9a2e" stroke-width="0.9" fill-opacity="0.7" stroke-opacity="0.9"/>
<polygon points="175.9,772.5 179.7,779.1 172.1,779.1" fill="#8dab40" stroke="#7a9a2e" stroke-width="0.9" fill-opacity="0.7" stroke-opacity="0.9"/>
<polygon points="156,777.2 159.8,783.8 152.2,783.8" fill="#8dab40" stroke="#7a9a2e" stroke-width="0.9" fill-opacity="0.7" stroke-opacity="0.9"/>
<polygon points="165.5,777.2 169.3,783.8 161.7,783.8" fill="#8dab40" stroke="#7a9a2e" stroke-width="0.9" fill-opacity="0.7" stroke-opacity="0.9"/>
<polygon points="200.6,775.3 204.4,781.9 196.8,781.9" fill="#8dab40" stroke="#7a9a2e" stroke-width="0.9" fill-opacity="0.7" stroke-opacity="0.9"/>
<polygon points="136.1,779.1 139.9,785.7 132.3,785.7" fill="#8dab40" stroke="#7a9a2e" stroke-width="0.9" fill-opacity="0.7" stroke-opacity="0.9"/>
<polygon points="139.9,784.8 143.7,791.4 136.1,791.4" fill="#8dab40" stroke="#7a9a2e" stroke-width="0.9" fill-opacity="0.7" stroke-opacity="0.9"/>
<polygon points="134.2,791.4 138,798 130.4,798" fill="#8dab40" stroke="#7a9a2e" stroke-width="0.9" fill-opacity="0.7" stroke-opacity="0.9"/>
<polygon points="139.9,791.4 143.7,798 136.1,798" fill="#8dab40" stroke="#7a9a2e" stroke-width="0.9" fill-opacity="0.7" stroke-opacity="0.9"/>
<polygon points="186.4,789.9 190.2,796.5 182.6,796.5" fill="#8dab40" stroke="#7a9a2e" stroke-width="0.9" fill-opacity="0.7" stroke-opacity="0.9"/>
<polygon points="158.8,801.9 162.6,808.5 155,808.5" fill="#8dab40" stroke="#7a9a2e" stroke-width="0.9" fill-opacity="0.7" stroke-opacity="0.9"/>
<polygon points="168.3,803.8 172.1,810.4 164.5,810.4" fill="#8dab40" stroke="#7a9a2e" stroke-width="0.9" fill-opacity="0.7" stroke-opacity="0.9"/>
<polygon points="138.9,814.2 142.7,820.8 135.1,820.8" fill="#8dab40" stroke="#7a9a2e" stroke-width="0.9" fill-opacity="0.7" stroke-opacity="0.9"/>
<polygon points="149.7,812.3 153.5,818.9 145.9,818.9" fill="#8dab40" stroke="#7a9a2e" stroke-width="0.9" fill-opacity="0.7" stroke-opacity="0.9"/>
<polygon points="114.2,814.2 118,820.8 110.4,820.8" fill="#8dab40" stroke="#7a9a2e" stroke-width="0.9" fill-opacity="0.7" stroke-opacity="0.9"/>
<line x1="115.2" y1="819.7" x2="221.5" y2="768.5" stroke="#8aa32e" stroke-width="1.7" stroke-dasharray="1.6,1.7"/>
<line x1="115.2" y1="809.8" x2="222.4" y2="769.4" stroke="#7f9f2c" stroke-width="1.9"/>
<line x1="330.9" y1="697.6" x2="330.9" y2="896.2" stroke="#777" stroke-width="1.3"/>
<line x1="77.6" y1="697.6" x2="330.9" y2="697.6" stroke="#222" stroke-width="1.3"/>
<line x1="77.6" y1="697.6" x2="77.6" y2="896.2" stroke="#222" stroke-width="1.3"/>
<line x1="77.6" y1="896.2" x2="330.9" y2="896.2" stroke="#222" stroke-width="1.3"/>
<line x1="73.3" y1="697.6" x2="77.6" y2="697.6" stroke="#222" stroke-width="1.2"/>
<text x="71.1" y="702.8" font-size="15.5" text-anchor="end" font-weight="normal" fill="#000" stroke="#000" stroke-width="0.3">1.2</text>
<line x1="73.3" y1="741.6" x2="77.6" y2="741.6" stroke="#222" stroke-width="1.2"/>
<text x="71.1" y="746.8" font-size="15.5" text-anchor="end" font-weight="normal" fill="#000" stroke="#000" stroke-width="0.3">0.8</text>
<line x1="73.3" y1="785.6" x2="77.6" y2="785.6" stroke="#222" stroke-width="1.2"/>
<text x="71.1" y="790.8" font-size="15.5" text-anchor="end" font-weight="normal" fill="#000" stroke="#000" stroke-width="0.3">0.4</text>
<line x1="73.3" y1="829.6" x2="77.6" y2="829.6" stroke="#222" stroke-width="1.2"/>
<text x="71.1" y="834.8" font-size="15.5" text-anchor="end" font-weight="normal" fill="#000" stroke="#000" stroke-width="0.3">0.0</text>
<line x1="73.3" y1="873.6" x2="77.6" y2="873.6" stroke="#222" stroke-width="1.2"/>
<text x="71.1" y="878.8" font-size="15.5" text-anchor="end" font-weight="normal" fill="#000" stroke="#000" stroke-width="0.3">−0.4</text>
<line x1="113.8" y1="896.2" x2="113.8" y2="900.2" stroke="#222" stroke-width="1.2"/>
<text x="113.8" y="916.2" font-size="15.5" text-anchor="middle" font-weight="normal" fill="#000" stroke="#000" stroke-width="0.3">0</text>
<line x1="186.1" y1="896.2" x2="186.1" y2="900.2" stroke="#222" stroke-width="1.2"/>
<text x="186.1" y="916.2" font-size="15.5" text-anchor="middle" font-weight="normal" fill="#000" stroke="#000" stroke-width="0.3">10</text>
<line x1="258.4" y1="896.2" x2="258.4" y2="900.2" stroke="#222" stroke-width="1.2"/>
<text x="258.4" y="916.2" font-size="15.5" text-anchor="middle" font-weight="normal" fill="#000" stroke="#000" stroke-width="0.3">20</text>
<line x1="330.7" y1="896.2" x2="330.7" y2="900.2" stroke="#222" stroke-width="1.2"/>
<text x="330.7" y="916.2" font-size="15.5" text-anchor="middle" font-weight="normal" fill="#000" stroke="#000" stroke-width="0.3">30</text>
<text x="205" y="936.2" font-size="17" text-anchor="middle" font-weight="normal" fill="#000" stroke="#000" stroke-width="0.3">C:N</text>
<line x1="79.7" y1="710.5" x2="95.6" y2="710.5" stroke="#8aa32e" stroke-width="1.6" stroke-dasharray="1.6,1.6"/>
<line x1="79.7" y1="725.6" x2="95.6" y2="725.6" stroke="#7f9f2c" stroke-width="1.6"/>
<text x="99.5" y="715.1" font-size="12.5" text-anchor="start" font-weight="normal" fill="#000" stroke="#000" stroke-width="0.3">All (<tspan font-style="italic">R</tspan><tspan dy="-5" font-size="9.5">2</tspan><tspan dy="5"> = 0.36, </tspan><tspan font-style="italic">P</tspan> &lt; 0.001, <tspan font-style="italic">n</tspan> = 37)</text>
<text x="99.5" y="730.3" font-size="12.5" text-anchor="start" font-weight="normal" fill="#000" stroke="#000" stroke-width="0.3">Synergistic (<tspan font-style="italic">R</tspan><tspan dy="-5" font-size="9.5">2</tspan><tspan dy="5"> = 0.41, </tspan><tspan font-style="italic">P</tspan> = 0.003, <tspan font-style="italic">n</tspan> = 28)</text>
<text x="38.6" y="796.6" font-size="17" text-anchor="middle" font-weight="normal" fill="#000" stroke="#000" stroke-width="0.3" transform="rotate(-90 38.6 796.6)">Mixing effect</text>
<text x="22.5" y="712.4" font-size="19" text-anchor="start" font-weight="bold" fill="#000">f</text>
<circle cx="408.2" cy="823.1" r="3.5" fill="none" stroke="#3560b0" stroke-width="0.8" stroke-opacity="0.85"/>
<circle cx="411.1" cy="822.1" r="3.5" fill="none" stroke="#3560b0" stroke-width="0.8" stroke-opacity="0.85"/>
<circle cx="409.2" cy="827.8" r="3.5" fill="none" stroke="#3560b0" stroke-width="0.8" stroke-opacity="0.85"/>
<circle cx="417.7" cy="817.4" r="3.5" fill="none" stroke="#3560b0" stroke-width="0.8" stroke-opacity="0.85"/>
<circle cx="433.8" cy="814.5" r="3.5" fill="none" stroke="#3560b0" stroke-width="0.8" stroke-opacity="0.85"/>
<circle cx="432" cy="825.9" r="3.5" fill="none" stroke="#3560b0" stroke-width="0.8" stroke-opacity="0.85"/>
<circle cx="444.3" cy="822.1" r="3.5" fill="none" stroke="#3560b0" stroke-width="0.8" stroke-opacity="0.85"/>
<circle cx="444.3" cy="829.3" r="3.5" fill="none" stroke="#3560b0" stroke-width="0.8" stroke-opacity="0.85"/>
<circle cx="444.3" cy="832.6" r="3.5" fill="none" stroke="#3560b0" stroke-width="0.8" stroke-opacity="0.85"/>
<circle cx="445.2" cy="841.1" r="3.5" fill="none" stroke="#3560b0" stroke-width="0.8" stroke-opacity="0.85"/>
<circle cx="460.4" cy="822.1" r="3.5" fill="none" stroke="#3560b0" stroke-width="0.8" stroke-opacity="0.85"/>
<circle cx="463.3" cy="810.4" r="3.5" fill="none" stroke="#3560b0" stroke-width="0.8" stroke-opacity="0.85"/>
<circle cx="495.5" cy="818.3" r="3.5" fill="none" stroke="#3560b0" stroke-width="0.8" stroke-opacity="0.85"/>
<circle cx="498" cy="823.1" r="3.5" fill="none" stroke="#3560b0" stroke-width="0.8" stroke-opacity="0.85"/>
<circle cx="475.6" cy="838.3" r="3.5" fill="none" stroke="#3560b0" stroke-width="0.8" stroke-opacity="0.85"/>
<circle cx="478.4" cy="842" r="3.5" fill="none" stroke="#3560b0" stroke-width="0.8" stroke-opacity="0.85"/>
<circle cx="489.8" cy="840.1" r="3.5" fill="none" stroke="#3560b0" stroke-width="0.8" stroke-opacity="0.85"/>
<circle cx="413.9" cy="834.5" r="3.5" fill="none" stroke="#3560b0" stroke-width="0.8" stroke-opacity="0.85"/>
<circle cx="552.3" cy="816.6" r="3.5" fill="none" stroke="#3560b0" stroke-width="0.8" stroke-opacity="0.85"/>
<circle cx="411.1" cy="825.9" r="3.5" fill="none" stroke="#7f4c22" stroke-width="0.8" stroke-opacity="0.85"/>
<circle cx="470.8" cy="812.6" r="3.5" fill="none" stroke="#7f4c22" stroke-width="0.8" stroke-opacity="0.85"/>
<circle cx="476.5" cy="818.3" r="3.5" fill="none" stroke="#7f4c22" stroke-width="0.8" stroke-opacity="0.85"/>
<circle cx="482.2" cy="821.7" r="3.5" fill="none" stroke="#7f4c22" stroke-width="0.8" stroke-opacity="0.85"/>
<circle cx="488.9" cy="821.2" r="3.5" fill="none" stroke="#7f4c22" stroke-width="0.8" stroke-opacity="0.85"/>
<circle cx="426.2" cy="837.3" r="3.5" fill="none" stroke="#7f4c22" stroke-width="0.8" stroke-opacity="0.85"/>
<circle cx="438.6" cy="826.9" r="3.5" fill="none" stroke="#7f4c22" stroke-width="0.8" stroke-opacity="0.85"/>
<circle cx="413.9" cy="833.5" r="3.5" fill="none" stroke="#7a9a2e" stroke-width="0.8" stroke-opacity="0.85"/>
<circle cx="424.3" cy="823.1" r="3.5" fill="none" stroke="#7a9a2e" stroke-width="0.8" stroke-opacity="0.85"/>
<circle cx="435.7" cy="822.1" r="3.5" fill="none" stroke="#7a9a2e" stroke-width="0.8" stroke-opacity="0.85"/>
<rect x="403.9" y="848.3" width="6" height="6" fill="#93623a" stroke="#7f4c22" stroke-width="0.7" fill-opacity="0.7" stroke-opacity="0.8"/>
<rect x="414.1" y="841.8" width="6" height="6" fill="#93623a" stroke="#7f4c22" stroke-width="0.7" fill-opacity="0.7" stroke-opacity="0.8"/>
<rect x="422.9" y="846.4" width="6" height="6" fill="#93623a" stroke="#7f4c22" stroke-width="0.7" fill-opacity="0.7" stroke-opacity="0.8"/>
<rect x="467.3" y="839.9" width="6" height="6" fill="#93623a" stroke="#7f4c22" stroke-width="0.7" fill-opacity="0.7" stroke-opacity="0.8"/>
<rect x="417.5" y="840.7" width="6" height="6" fill="#8dab40" stroke="#7a9a2e" stroke-width="0.7" fill-opacity="0.7" stroke-opacity="0.8"/>
<rect x="435.6" y="845" width="6" height="6" fill="#8dab40" stroke="#7a9a2e" stroke-width="0.7" fill-opacity="0.7" stroke-opacity="0.8"/>
<rect x="403.9" y="855.1" width="6" height="6" fill="#4a74c4" stroke="#3560b0" stroke-width="0.7" fill-opacity="0.7" stroke-opacity="0.8"/>
<rect x="404.6" y="857.7" width="6" height="6" fill="#4a74c4" stroke="#3560b0" stroke-width="0.7" fill-opacity="0.7" stroke-opacity="0.8"/>
<rect x="408.4" y="850.2" width="6" height="6" fill="#4a74c4" stroke="#3560b0" stroke-width="0.7" fill-opacity="0.7" stroke-opacity="0.8"/>
<rect x="419.4" y="846" width="6" height="6" fill="#4a74c4" stroke="#3560b0" stroke-width="0.7" fill-opacity="0.7" stroke-opacity="0.8"/>
<rect x="421" y="855.8" width="6" height="6" fill="#4a74c4" stroke="#3560b0" stroke-width="0.7" fill-opacity="0.7" stroke-opacity="0.8"/>
<rect x="417.2" y="860.2" width="6" height="6" fill="#4a74c4" stroke="#3560b0" stroke-width="0.7" fill-opacity="0.7" stroke-opacity="0.8"/>
<rect x="416.6" y="869.7" width="6" height="6" fill="#4a74c4" stroke="#3560b0" stroke-width="0.7" fill-opacity="0.7" stroke-opacity="0.8"/>
<rect x="417.9" y="882.4" width="6" height="6" fill="#4a74c4" stroke="#3560b0" stroke-width="0.7" fill-opacity="0.7" stroke-opacity="0.8"/>
<rect x="437.5" y="872.5" width="6" height="6" fill="#4a74c4" stroke="#3560b0" stroke-width="0.7" fill-opacity="0.7" stroke-opacity="0.8"/>
<rect x="448.3" y="880.5" width="6" height="6" fill="#4a74c4" stroke="#3560b0" stroke-width="0.7" fill-opacity="0.7" stroke-opacity="0.8"/>
<rect x="463.5" y="867.8" width="6" height="6" fill="#4a74c4" stroke="#3560b0" stroke-width="0.7" fill-opacity="0.7" stroke-opacity="0.8"/>
<rect x="440.7" y="844.5" width="6" height="6" fill="#4a74c4" stroke="#3560b0" stroke-width="0.7" fill-opacity="0.7" stroke-opacity="0.8"/>
<polygon points="408.2,762.5 412,769.1 404.4,769.1" fill="#4a74c4" stroke="#3560b0" stroke-width="0.9" fill-opacity="0.7" stroke-opacity="0.9"/>
<polygon points="426.2,778.3 430,784.9 422.4,784.9" fill="#4a74c4" stroke="#3560b0" stroke-width="0.9" fill-opacity="0.7" stroke-opacity="0.9"/>
<polygon points="458.5,763.9 462.3,770.5 454.7,770.5" fill="#4a74c4" stroke="#3560b0" stroke-width="0.9" fill-opacity="0.7" stroke-opacity="0.9"/>
<polygon points="461.4,764.4 465.2,771 457.6,771" fill="#4a74c4" stroke="#3560b0" stroke-width="0.9" fill-opacity="0.7" stroke-opacity="0.9"/>
<polygon points="413,784.4 416.8,791 409.2,791" fill="#4a74c4" stroke="#3560b0" stroke-width="0.9" fill-opacity="0.7" stroke-opacity="0.9"/>
<polygon points="412,788.5 415.8,795.1 408.2,795.1" fill="#4a74c4" stroke="#3560b0" stroke-width="0.9" fill-opacity="0.7" stroke-opacity="0.9"/>
<polygon points="420.5,791 424.3,797.6 416.7,797.6" fill="#4a74c4" stroke="#3560b0" stroke-width="0.9" fill-opacity="0.7" stroke-opacity="0.9"/>
<polygon points="439.5,789.1 443.3,795.7 435.7,795.7" fill="#4a74c4" stroke="#3560b0" stroke-width="0.9" fill-opacity="0.7" stroke-opacity="0.9"/>
<polygon points="448.1,789.7 451.9,796.3 444.3,796.3" fill="#4a74c4" stroke="#3560b0" stroke-width="0.9" fill-opacity="0.7" stroke-opacity="0.9"/>
<polygon points="435.7,792.9 439.5,799.5 431.9,799.5" fill="#4a74c4" stroke="#3560b0" stroke-width="0.9" fill-opacity="0.7" stroke-opacity="0.9"/>
<polygon points="430,795.7 433.8,802.3 426.2,802.3" fill="#4a74c4" stroke="#3560b0" stroke-width="0.9" fill-opacity="0.7" stroke-opacity="0.9"/>
<polygon points="413,797.6 416.8,804.2 409.2,804.2" fill="#4a74c4" stroke="#3560b0" stroke-width="0.9" fill-opacity="0.7" stroke-opacity="0.9"/>
<polygon points="457.6,796.7 461.4,803.3 453.8,803.3" fill="#4a74c4" stroke="#3560b0" stroke-width="0.9" fill-opacity="0.7" stroke-opacity="0.9"/>
<polygon points="455.7,800.5 459.5,807.1 451.9,807.1" fill="#4a74c4" stroke="#3560b0" stroke-width="0.9" fill-opacity="0.7" stroke-opacity="0.9"/>
<polygon points="482.8,801.1 486.6,807.7 479,807.7" fill="#4a74c4" stroke="#3560b0" stroke-width="0.9" fill-opacity="0.7" stroke-opacity="0.9"/>
<polygon points="535,759.9 538.8,766.5 531.2,766.5" fill="#4a74c4" stroke="#3560b0" stroke-width="0.9" fill-opacity="0.7" stroke-opacity="0.9"/>
<polygon points="553,773.6 556.8,780.2 549.2,780.2" fill="#4a74c4" stroke="#3560b0" stroke-width="0.9" fill-opacity="0.7" stroke-opacity="0.9"/>
<polygon points="605.5,778.3 609.3,784.9 601.7,784.9" fill="#4a74c4" stroke="#3560b0" stroke-width="0.9" fill-opacity="0.7" stroke-opacity="0.9"/>
<polygon points="412,765.8 415.8,772.4 408.2,772.4" fill="#93623a" stroke="#7f4c22" stroke-width="0.9" fill-opacity="0.7" stroke-opacity="0.9"/>
<polygon points="449,765.8 452.8,772.4 445.2,772.4" fill="#93623a" stroke="#7f4c22" stroke-width="0.9" fill-opacity="0.7" stroke-opacity="0.9"/>
<polygon points="413.9,772 417.7,778.6 410.1,778.6" fill="#93623a" stroke="#7f4c22" stroke-width="0.9" fill-opacity="0.7" stroke-opacity="0.9"/>
<polygon points="406.9,775.8 410.7,782.4 403.1,782.4" fill="#93623a" stroke="#7f4c22" stroke-width="0.9" fill-opacity="0.7" stroke-opacity="0.9"/>
<polygon points="450,774.9 453.8,781.5 446.2,781.5" fill="#93623a" stroke="#7f4c22" stroke-width="0.9" fill-opacity="0.7" stroke-opacity="0.9"/>
<polygon points="476.5,769.6 480.3,776.2 472.7,776.2" fill="#93623a" stroke="#7f4c22" stroke-width="0.9" fill-opacity="0.7" stroke-opacity="0.9"/>
<polygon points="484.7,779.6 488.5,786.2 480.9,786.2" fill="#93623a" stroke="#7f4c22" stroke-width="0.9" fill-opacity="0.7" stroke-opacity="0.9"/>
<polygon points="496.5,782.5 500.3,789.1 492.7,789.1" fill="#93623a" stroke="#7f4c22" stroke-width="0.9" fill-opacity="0.7" stroke-opacity="0.9"/>
<polygon points="434.2,782.5 438,789.1 430.4,789.1" fill="#93623a" stroke="#7f4c22" stroke-width="0.9" fill-opacity="0.7" stroke-opacity="0.9"/>
<polygon points="448.6,781.5 452.4,788.1 444.8,788.1" fill="#93623a" stroke="#7f4c22" stroke-width="0.9" fill-opacity="0.7" stroke-opacity="0.9"/>
<polygon points="407.3,790.4 411.1,797 403.5,797" fill="#93623a" stroke="#7f4c22" stroke-width="0.9" fill-opacity="0.7" stroke-opacity="0.9"/>
<polygon points="419.6,797.3 423.4,803.9 415.8,803.9" fill="#93623a" stroke="#7f4c22" stroke-width="0.9" fill-opacity="0.7" stroke-opacity="0.9"/>
<polygon points="417.1,802.4 420.9,809 413.3,809" fill="#93623a" stroke="#7f4c22" stroke-width="0.9" fill-opacity="0.7" stroke-opacity="0.9"/>
<polygon points="466.1,800.5 469.9,807.1 462.3,807.1" fill="#93623a" stroke="#7f4c22" stroke-width="0.9" fill-opacity="0.7" stroke-opacity="0.9"/>
<polygon points="469.9,798.6 473.7,805.2 466.1,805.2" fill="#93623a" stroke="#7f4c22" stroke-width="0.9" fill-opacity="0.7" stroke-opacity="0.9"/>
<polygon points="488.9,800.5 492.7,807.1 485.1,807.1" fill="#93623a" stroke="#7f4c22" stroke-width="0.9" fill-opacity="0.7" stroke-opacity="0.9"/>
<polygon points="496.5,800.5 500.3,807.1 492.7,807.1" fill="#93623a" stroke="#7f4c22" stroke-width="0.9" fill-opacity="0.7" stroke-opacity="0.9"/>
<polygon points="450,805.2 453.8,811.8 446.2,811.8" fill="#93623a" stroke="#7f4c22" stroke-width="0.9" fill-opacity="0.7" stroke-opacity="0.9"/>
<polygon points="406.3,809 410.1,815.6 402.5,815.6" fill="#93623a" stroke="#7f4c22" stroke-width="0.9" fill-opacity="0.7" stroke-opacity="0.9"/>
<polygon points="420.5,808.7 424.3,815.3 416.7,815.3" fill="#93623a" stroke="#7f4c22" stroke-width="0.9" fill-opacity="0.7" stroke-opacity="0.9"/>
<polygon points="442.4,809 446.2,815.6 438.6,815.6" fill="#93623a" stroke="#7f4c22" stroke-width="0.9" fill-opacity="0.7" stroke-opacity="0.9"/>
<polygon points="422.4,812.8 426.2,819.4 418.6,819.4" fill="#93623a" stroke="#7f4c22" stroke-width="0.9" fill-opacity="0.7" stroke-opacity="0.9"/>
<polygon points="447.1,811.9 450.9,818.5 443.3,818.5" fill="#93623a" stroke="#7f4c22" stroke-width="0.9" fill-opacity="0.7" stroke-opacity="0.9"/>
<polygon points="576.2,751.7 580,758.3 572.4,758.3" fill="#93623a" stroke="#7f4c22" stroke-width="0.9" fill-opacity="0.7" stroke-opacity="0.9"/>
<polygon points="530.9,802.8 534.7,809.4 527.1,809.4" fill="#93623a" stroke="#7f4c22" stroke-width="0.9" fill-opacity="0.7" stroke-opacity="0.9"/>
<polygon points="468.4,750.6 472.2,757.2 464.6,757.2" fill="#8dab40" stroke="#7a9a2e" stroke-width="0.9" fill-opacity="0.7" stroke-opacity="0.9"/>
<polygon points="492.7,762.5 496.5,769.1 488.9,769.1" fill="#8dab40" stroke="#7a9a2e" stroke-width="0.9" fill-opacity="0.7" stroke-opacity="0.9"/>
<polygon points="465.1,763.5 468.9,770.1 461.3,770.1" fill="#8dab40" stroke="#7a9a2e" stroke-width="0.9" fill-opacity="0.7" stroke-opacity="0.9"/>
<polygon points="482.2,768.8 486,775.4 478.4,775.4" fill="#8dab40" stroke="#7a9a2e" stroke-width="0.9" fill-opacity="0.7" stroke-opacity="0.9"/>
<polygon points="442.9,773 446.7,779.6 439.1,779.6" fill="#8dab40" stroke="#7a9a2e" stroke-width="0.9" fill-opacity="0.7" stroke-opacity="0.9"/>
<polygon points="455.7,774.9 459.5,781.5 451.9,781.5" fill="#8dab40" stroke="#7a9a2e" stroke-width="0.9" fill-opacity="0.7" stroke-opacity="0.9"/>
<polygon points="419.6,777.1 423.4,783.7 415.8,783.7" fill="#8dab40" stroke="#7a9a2e" stroke-width="0.9" fill-opacity="0.7" stroke-opacity="0.9"/>
<polygon points="408.8,782.1 412.6,788.7 405,788.7" fill="#8dab40" stroke="#7a9a2e" stroke-width="0.9" fill-opacity="0.7" stroke-opacity="0.9"/>
<polygon points="430,779.6 433.8,786.2 426.2,786.2" fill="#8dab40" stroke="#7a9a2e" stroke-width="0.9" fill-opacity="0.7" stroke-opacity="0.9"/>
<polygon points="448.1,783.4 451.9,790 444.3,790" fill="#8dab40" stroke="#7a9a2e" stroke-width="0.9" fill-opacity="0.7" stroke-opacity="0.9"/>
<polygon points="420.5,789.7 424.3,796.3 416.7,796.3" fill="#8dab40" stroke="#7a9a2e" stroke-width="0.9" fill-opacity="0.7" stroke-opacity="0.9"/>
<polygon points="431,790.4 434.8,797 427.2,797" fill="#8dab40" stroke="#7a9a2e" stroke-width="0.9" fill-opacity="0.7" stroke-opacity="0.9"/>
<polygon points="425.3,794.8 429.1,801.4 421.5,801.4" fill="#8dab40" stroke="#7a9a2e" stroke-width="0.9" fill-opacity="0.7" stroke-opacity="0.9"/>
<polygon points="432.9,802.4 436.7,809 429.1,809" fill="#8dab40" stroke="#7a9a2e" stroke-width="0.9" fill-opacity="0.7" stroke-opacity="0.9"/>
<polygon points="455.7,803.3 459.5,809.9 451.9,809.9" fill="#8dab40" stroke="#7a9a2e" stroke-width="0.9" fill-opacity="0.7" stroke-opacity="0.9"/>
<polygon points="482.2,805.2 486,811.8 478.4,811.8" fill="#8dab40" stroke="#7a9a2e" stroke-width="0.9" fill-opacity="0.7" stroke-opacity="0.9"/>
<polygon points="426.2,808.1 430,814.7 422.4,814.7" fill="#8dab40" stroke="#7a9a2e" stroke-width="0.9" fill-opacity="0.7" stroke-opacity="0.9"/>
<polygon points="454.7,813.8 458.5,820.4 450.9,820.4" fill="#8dab40" stroke="#7a9a2e" stroke-width="0.9" fill-opacity="0.7" stroke-opacity="0.9"/>
<polygon points="416.4,812.8 420.2,819.4 412.6,819.4" fill="#8dab40" stroke="#7a9a2e" stroke-width="0.9" fill-opacity="0.7" stroke-opacity="0.9"/>
<line x1="407.5" y1="830.5" x2="604" y2="784.8" stroke="#3d6cc0" stroke-width="1.7" stroke-dasharray="1.6,1.7"/>
<line x1="407" y1="815" x2="574.2" y2="783.3" stroke="#8b5a2b" stroke-width="1.7" stroke-dasharray="1.6,1.7"/>
<line x1="412" y1="812.6" x2="493.6" y2="783.8" stroke="#8aa32e" stroke-width="1.7" stroke-dasharray="1.6,1.7"/>
<line x1="375.6" y1="697.6" x2="375.6" y2="896.2" stroke="#222" stroke-width="1.3"/>
<line x1="375.6" y1="697.6" x2="632.9" y2="697.6" stroke="#222" stroke-width="1.3"/>
<line x1="628.6" y1="697.6" x2="628.6" y2="896.2" stroke="#222" stroke-width="1.3"/>
<line x1="375.6" y1="896.2" x2="628.6" y2="896.2" stroke="#222" stroke-width="1.3"/>
<line x1="628.6" y1="697.6" x2="632.9" y2="697.6" stroke="#222" stroke-width="1.2"/>
<text x="635.1" y="702.8" font-size="15.5" text-anchor="start" font-weight="normal" fill="#000" stroke="#000" stroke-width="0.3">1.2</text>
<line x1="628.6" y1="741.6" x2="632.9" y2="741.6" stroke="#222" stroke-width="1.2"/>
<text x="635.1" y="746.8" font-size="15.5" text-anchor="start" font-weight="normal" fill="#000" stroke="#000" stroke-width="0.3">0.8</text>
<line x1="628.6" y1="785.6" x2="632.9" y2="785.6" stroke="#222" stroke-width="1.2"/>
<text x="635.1" y="790.8" font-size="15.5" text-anchor="start" font-weight="normal" fill="#000" stroke="#000" stroke-width="0.3">0.4</text>
<line x1="628.6" y1="829.6" x2="632.9" y2="829.6" stroke="#222" stroke-width="1.2"/>
<text x="635.1" y="834.8" font-size="15.5" text-anchor="start" font-weight="normal" fill="#000" stroke="#000" stroke-width="0.3">0.0</text>
<line x1="628.6" y1="873.6" x2="632.9" y2="873.6" stroke="#222" stroke-width="1.2"/>
<text x="635.1" y="878.8" font-size="15.5" text-anchor="start" font-weight="normal" fill="#000" stroke="#000" stroke-width="0.3">−0.4</text>
<line x1="406.8" y1="896.2" x2="406.8" y2="900.2" stroke="#222" stroke-width="1.2"/>
<text x="406.8" y="916.2" font-size="15.5" text-anchor="middle" font-weight="normal" fill="#000" stroke="#000" stroke-width="0.3">0</text>
<line x1="470" y1="896.2" x2="470" y2="900.2" stroke="#222" stroke-width="1.2"/>
<text x="470" y="916.2" font-size="15.5" text-anchor="middle" font-weight="normal" fill="#000" stroke="#000" stroke-width="0.3">2</text>
<line x1="533.2" y1="896.2" x2="533.2" y2="900.2" stroke="#222" stroke-width="1.2"/>
<text x="533.2" y="916.2" font-size="15.5" text-anchor="middle" font-weight="normal" fill="#000" stroke="#000" stroke-width="0.3">4</text>
<line x1="596.4" y1="896.2" x2="596.4" y2="900.2" stroke="#222" stroke-width="1.2"/>
<text x="596.4" y="916.2" font-size="15.5" text-anchor="middle" font-weight="normal" fill="#000" stroke="#000" stroke-width="0.3">6</text>
<text x="502" y="936.2" font-size="17" text-anchor="middle" font-weight="normal" fill="#000" stroke="#000" stroke-width="0.3">CTs:N</text>
<line x1="380.5" y1="709" x2="394.5" y2="709" stroke="#3d6cc0" stroke-width="1.6" stroke-dasharray="1.6,1.6"/>
<line x1="380.5" y1="723.5" x2="394.5" y2="723.5" stroke="#8b5a2b" stroke-width="1.6" stroke-dasharray="1.6,1.6"/>
<line x1="380.5" y1="737.7" x2="394.5" y2="737.7" stroke="#8aa32e" stroke-width="1.6" stroke-dasharray="1.6,1.6"/>
<text x="399.9" y="713.7" font-size="12.5" text-anchor="start" font-weight="normal" fill="#000" stroke="#000" stroke-width="0.3">All (<tspan font-style="italic">R</tspan><tspan dy="-5" font-size="9.5">2</tspan><tspan dy="5"> = 0.09, </tspan><tspan font-style="italic">P</tspan> = 0.025, <tspan font-style="italic">n</tspan> = 54)</text>
<text x="399.9" y="727.9" font-size="12.5" text-anchor="start" font-weight="normal" fill="#000" stroke="#000" stroke-width="0.3">All (<tspan font-style="italic">R</tspan><tspan dy="-5" font-size="9.5">2</tspan><tspan dy="5"> = 0.10, </tspan><tspan font-style="italic">P</tspan> = 0.032, <tspan font-style="italic">n</tspan> = 47)</text>
<text x="399.9" y="742.1" font-size="12.5" text-anchor="start" font-weight="normal" fill="#000" stroke="#000" stroke-width="0.3">All (<tspan font-style="italic">R</tspan><tspan dy="-5" font-size="9.5">2</tspan><tspan dy="5"> = 0.11, </tspan><tspan font-style="italic">P</tspan> = 0.047, <tspan font-style="italic">n</tspan> = 37)</text>
<text x="672" y="796.5" font-size="17" text-anchor="middle" font-weight="normal" fill="#000" stroke="#000" stroke-width="0.3" transform="rotate(90 672 796.5)">Mixing effect</text>
<text x="356" y="710.4" font-size="19" text-anchor="start" font-weight="bold" fill="#000">g</text>
</svg></body></html>
